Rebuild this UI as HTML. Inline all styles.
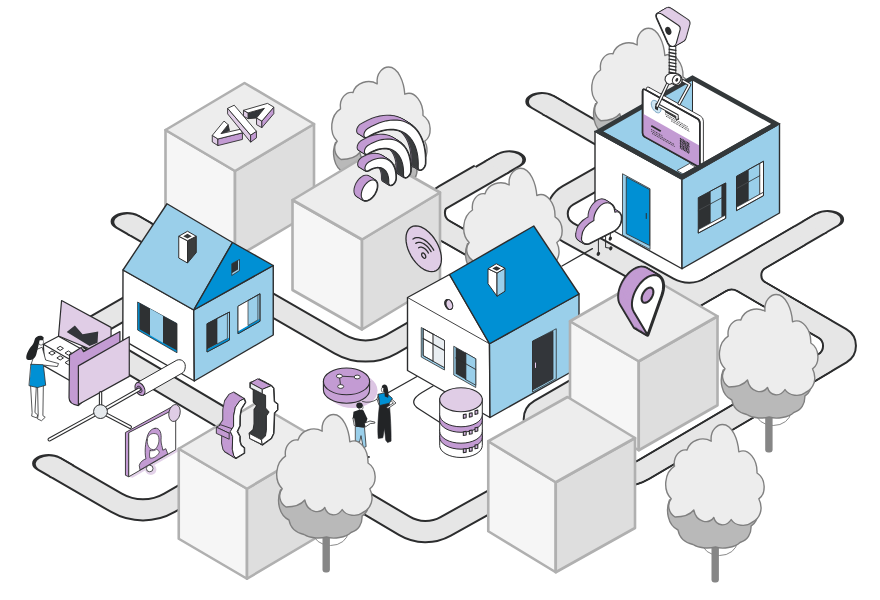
<!DOCTYPE html>
<html><head><meta charset="utf-8"><title>Isometric city</title>
<style>html,body{margin:0;padding:0;background:#fff;font-family:"Liberation Sans",sans-serif}svg{display:block}</style>
</head><body>
<svg width="880" height="600" viewBox="0 0 880 600">
<rect width="880" height="600" fill="#fff"/>
<g fill="none" stroke-linecap="butt" stroke-linejoin="round">
<g stroke="#2c2d2e" stroke-width="23.2">
<path d="M133.1,225.0 L339.7,344.1 A52.0,52.0 0 0 0 391.5,344.1 L470.0,299.0"/>
<path d="M547.8,104.9 L620.0,146.5"/>
<path d="M400.0,222.9 L503.5,163.1"/>
<path d="M400.0,205.0 L413.7,212.7 A45.0,45.0 0 0 1 414.1,212.9 L448.9,233.0 A45.0,45.0 0 0 0 449.1,233.0 L540.0,285.0"/>
<path d="M480.0,174.8 L444.5,195.2 A20.3,20.3 0 0 0 444.5,230.4 L480.0,250.8"/>
<path d="M650.0,148.8 L567.9,195.3 A21.2,21.2 0 0 0 568.1,232.3 L668.3,287.9 A43.0,43.0 0 0 0 710.8,287.4 L821.6,222.9"/>
<path d="M689.7,299.7 L720.5,281.8 A22.0,22.0 0 0 1 742.5,281.7 L841.0,338.3 A8.7,8.7 0 0 1 841.1,353.3 L643.9,469.6 A45.0,45.0 0 0 1 599.7,470.5 L567.1,452.9 A8.0,8.0 0 0 0 557.5,454.5 L540.0,473.0"/>
<path d="M689.7,299.7 L720.5,281.8 A22.0,22.0 0 0 1 742.5,281.7 L823.4,328.2 A20.5,20.5 0 0 1 823.6,363.6 L643.9,469.6 A45.0,45.0 0 0 1 599.7,470.5 L567.1,452.9 A8.0,8.0 0 0 0 557.5,454.5 L540.0,473.0"/>
<path d="M800.0,235.5 L760.2,258.7 A19.2,19.2 0 0 0 760.3,291.9 L800.0,314.7"/>
<path d="M640.0,352.0 L539.6,410.0 A10.7,10.7 0 0 0 539.6,428.5 L579.6,451.6"/>
<path d="M600.0,440.3 L445.7,526.4 A41.5,41.5 0 0 1 404.3,525.8 L92.8,341.0 A8.0,8.0 0 0 1 92.9,327.2 L135.0,303.0"/>
<path d="M54.6,467.0 L116.5,502.8 A53.0,53.0 0 0 0 169.5,502.8 L264.5,448.0"/>
</g>
<path d="M152.5,222.8 L138.6,214.8 A16.40,9.47 0 0 0 115.4,228.2 L129.3,236.2 Z" fill="#2c2d2e"/>
<path d="M567.2,102.7 L553.3,94.7 A16.40,9.47 0 0 0 530.1,108.1 L544.0,116.1 Z" fill="#2c2d2e"/>
<path d="M507.3,174.3 L521.2,166.3 A16.40,9.47 0 0 0 498.0,152.9 L484.1,160.9 Z" fill="#2c2d2e"/>
<path d="M825.4,234.1 L839.3,226.1 A16.40,9.47 0 0 0 816.1,212.7 L802.2,220.7 Z" fill="#2c2d2e"/>
<path d="M74.0,464.8 L60.1,456.8 A16.40,9.47 0 0 0 36.9,470.2 L50.8,478.2 Z" fill="#2c2d2e"/>
<g stroke="#e6e6e6" stroke-width="19.2">
<path d="M133.1,225.0 L339.7,344.1 A52.0,52.0 0 0 0 391.5,344.1 L470.0,299.0"/>
<path d="M547.8,104.9 L620.0,146.5"/>
<path d="M400.0,222.9 L503.5,163.1"/>
<path d="M400.0,205.0 L413.7,212.7 A45.0,45.0 0 0 1 414.1,212.9 L448.9,233.0 A45.0,45.0 0 0 0 449.1,233.0 L540.0,285.0"/>
<path d="M480.0,174.8 L444.5,195.2 A20.3,20.3 0 0 0 444.5,230.4 L480.0,250.8"/>
<path d="M650.0,148.8 L567.9,195.3 A21.2,21.2 0 0 0 568.1,232.3 L668.3,287.9 A43.0,43.0 0 0 0 710.8,287.4 L821.6,222.9"/>
<path d="M689.7,299.7 L720.5,281.8 A22.0,22.0 0 0 1 742.5,281.7 L841.0,338.3 A8.7,8.7 0 0 1 841.1,353.3 L643.9,469.6 A45.0,45.0 0 0 1 599.7,470.5 L567.1,452.9 A8.0,8.0 0 0 0 557.5,454.5 L540.0,473.0"/>
<path d="M689.7,299.7 L720.5,281.8 A22.0,22.0 0 0 1 742.5,281.7 L823.4,328.2 A20.5,20.5 0 0 1 823.6,363.6 L643.9,469.6 A45.0,45.0 0 0 1 599.7,470.5 L567.1,452.9 A8.0,8.0 0 0 0 557.5,454.5 L540.0,473.0"/>
<path d="M800.0,235.5 L760.2,258.7 A19.2,19.2 0 0 0 760.3,291.9 L800.0,314.7"/>
<path d="M640.0,352.0 L539.6,410.0 A10.7,10.7 0 0 0 539.6,428.5 L579.6,451.6"/>
<path d="M600.0,440.3 L445.7,526.4 A41.5,41.5 0 0 1 404.3,525.8 L92.8,341.0 A8.0,8.0 0 0 1 92.9,327.2 L135.0,303.0"/>
<path d="M54.6,467.0 L116.5,502.8 A53.0,53.0 0 0 0 169.5,502.8 L264.5,448.0"/>
</g>
<path d="M150.5,224.0 L136.6,216.0 A13.58,7.84 0 0 0 117.4,227.0 L131.3,235.0 Z" fill="#e6e6e6"/>
<path d="M565.2,103.9 L551.3,95.9 A13.58,7.84 0 0 0 532.1,106.9 L546.0,114.9 Z" fill="#e6e6e6"/>
<path d="M505.3,173.1 L519.2,165.1 A13.58,7.84 0 0 0 500.0,154.1 L486.1,162.1 Z" fill="#e6e6e6"/>
<path d="M823.4,232.9 L837.3,224.9 A13.58,7.84 0 0 0 818.1,213.9 L804.2,221.9 Z" fill="#e6e6e6"/>
<path d="M72.0,466.0 L58.1,458.0 A13.58,7.84 0 0 0 38.9,469.0 L52.8,477.0 Z" fill="#e6e6e6"/>
</g>
<polyline points="562.00,266.00 592.40,248.60" fill="none" stroke="#2c2d2e" stroke-width="1.3" stroke-linejoin="round" stroke-linecap="round" />
<polyline points="388.50,392.50 417.00,376.50" fill="none" stroke="#2c2d2e" stroke-width="1.3" stroke-linejoin="round" stroke-linecap="round" />
<path d="M335.5,142.5 C331.5,152.5 333.5,167.5 344.0,172.5 C345.5,181.2 352.2,185.5 359.0,187.0 C366.0,191.5 376.0,191.0 381.5,189.5 C388.5,192.0 401.0,190.0 406.0,185.0 C413.5,183.0 417.5,176.2 417.0,168.8 C426.0,162.5 426.0,147.5 416.0,142.5 C391.0,137.5 361.0,137.5 335.5,142.5 Z" fill="#b9b9b9" stroke="#808080" stroke-width="1.4" stroke-linejoin="round" stroke-linecap="round" />
<path d="M377.2,83.8 C376.0,72.5 383.5,67.0 388.5,67.0 C398.5,67.0 404.0,82.5 404.8,94.2 C414.8,90.0 423.5,102.5 423.0,115.5 C432.2,121.2 432.2,136.2 424.8,141.2 C429.8,151.2 426.0,161.2 417.8,165.0 C412.2,169.5 401.0,168.8 397.2,162.0 C392.2,170.0 382.2,168.8 379.8,160.0 C374.8,167.0 362.2,165.0 359.8,152.5 C354.8,158.8 346.0,159.5 341.0,159.5 C334.0,155.0 333.0,146.2 337.2,141.2 C328.5,132.5 330.5,115.0 340.5,108.8 C339.0,98.8 346.0,91.2 353.0,92.5 C356.0,82.5 368.5,78.8 377.2,83.8 Z" fill="#ededed" stroke="#808080" stroke-width="1.4" stroke-linejoin="round" stroke-linecap="round" />
<path d="M595.5,103.8 C591.5,113.8 593.5,128.8 604.0,133.8 C605.5,142.5 612.2,146.8 619.0,148.2 C626.0,152.8 636.0,152.2 641.5,150.8 C648.5,153.2 661.0,151.2 666.0,146.2 C673.5,144.2 677.5,137.5 677.0,130.0 C686.0,123.8 686.0,108.8 676.0,103.8 C651.0,98.8 621.0,98.8 595.5,103.8 Z" fill="#b9b9b9" stroke="#808080" stroke-width="1.4" stroke-linejoin="round" stroke-linecap="round" />
<path d="M637.2,45.0 C636.0,33.8 643.5,28.2 648.5,28.2 C658.5,28.2 664.0,43.8 664.8,55.5 C674.8,51.2 683.5,63.8 683.0,76.8 C692.2,82.5 692.2,97.5 684.8,102.5 C689.8,112.5 686.0,122.5 677.8,126.2 C672.2,130.8 661.0,130.0 657.2,123.2 C652.2,131.2 642.2,130.0 639.8,121.2 C634.8,128.2 622.2,126.2 619.8,113.8 C614.8,120.0 606.0,120.8 601.0,120.8 C594.0,116.2 593.0,107.5 597.2,102.5 C588.5,93.8 590.5,76.2 600.5,70.0 C599.0,60.0 606.0,52.5 613.0,53.8 C616.0,43.8 628.5,40.0 637.2,45.0 Z" fill="#ededed" stroke="#808080" stroke-width="1.4" stroke-linejoin="round" stroke-linecap="round" />
<polygon points="165.50,130.00 235.00,171.00 235.00,258.00 165.50,217.00" fill="#f6f6f6" stroke="#b0b0b0" stroke-width="2.6" stroke-linejoin="round" />
<polygon points="235.00,171.00 314.00,124.00 314.00,211.00 235.00,258.00" fill="#dedede" stroke="#b0b0b0" stroke-width="2.6" stroke-linejoin="round" />
<polygon points="165.50,130.00 244.50,83.00 314.00,124.00 235.00,171.00" fill="#ededed" stroke="#b0b0b0" stroke-width="2.6" stroke-linejoin="round" />
<polygon points="228.12,124.65 229.45,130.58 220.96,133.65" fill="#33363a" stroke="#2c2d2e" stroke-width="0.9" stroke-linejoin="round" />
<polygon points="212.27,135.39 217.89,138.97 217.89,145.57 212.27,141.99" fill="#e0cde6" stroke="#2c2d2e" stroke-width="0.9" stroke-linejoin="round" />
<polygon points="217.89,138.97 242.43,132.83 242.43,139.43 217.89,145.57" fill="#c39bd3" stroke="#2c2d2e" stroke-width="0.9" stroke-linejoin="round" />
<polygon points="224.03,121.07 212.27,135.39 217.89,138.97 242.43,132.83 240.39,129.25 220.96,133.65 228.12,124.65" fill="#fff" stroke="#2c2d2e" stroke-width="0.9" stroke-linejoin="round" />
<polygon points="248.06,112.89 264.42,108.29 256.54,118.01 248.06,118.69" fill="#33363a" stroke="#2c2d2e" stroke-width="0.9" stroke-linejoin="round" />
<polygon points="243.46,110.34 248.06,112.89 248.06,118.69 243.46,116.14" fill="#e0cde6" stroke="#2c2d2e" stroke-width="0.9" stroke-linejoin="round" />
<polygon points="256.54,118.01 261.86,121.07 261.86,127.67 256.54,124.61" fill="#e0cde6" stroke="#2c2d2e" stroke-width="0.9" stroke-linejoin="round" />
<polygon points="261.86,121.07 273.82,107.07 273.82,113.67 261.86,127.67" fill="#c39bd3" stroke="#2c2d2e" stroke-width="0.9" stroke-linejoin="round" />
<polygon points="243.46,110.34 267.48,103.38 273.82,107.07 261.86,121.07 256.54,118.01 264.42,108.29 248.06,112.89" fill="#fff" stroke="#2c2d2e" stroke-width="0.9" stroke-linejoin="round" />
<polygon points="227.61,108.29 250.61,135.08 250.61,142.18 227.61,113.89" fill="#e0cde6" stroke="#2c2d2e" stroke-width="0.9" stroke-linejoin="round" />
<polygon points="250.61,135.08 256.44,131.30 256.44,137.90 250.61,142.18" fill="#c39bd3" stroke="#2c2d2e" stroke-width="0.9" stroke-linejoin="round" />
<polygon points="227.61,108.29 234.25,105.22 256.44,131.30 250.61,135.08" fill="#fff" stroke="#2c2d2e" stroke-width="0.9" stroke-linejoin="round" />
<polygon points="292.50,200.00 362.00,239.50 362.00,329.50 292.50,290.00" fill="#f6f6f6" stroke="#b0b0b0" stroke-width="2.6" stroke-linejoin="round" />
<polygon points="362.00,239.50 440.00,192.50 440.00,282.50 362.00,329.50" fill="#dedede" stroke="#b0b0b0" stroke-width="2.6" stroke-linejoin="round" />
<polygon points="292.50,200.00 370.50,153.00 440.00,192.50 362.00,239.50" fill="#ededed" stroke="#b0b0b0" stroke-width="2.6" stroke-linejoin="round" />
<g fill="#2c2d2e" stroke="#2c2d2e" stroke-width="2.2" stroke-linejoin="round">
<polygon points="425.38,163.51 425.45,158.99 425.25,154.64 424.79,150.46 424.06,146.48 423.07,142.72 421.82,139.20 420.32,135.94 418.58,132.94 416.60,130.23 414.40,127.81 411.98,125.71 409.36,123.92 406.54,122.46 403.55,121.33 400.40,120.55 397.10,120.10 393.66,120.00 390.11,120.25 386.46,120.84 382.73,121.78 378.93,123.05 375.09,124.65 371.22,126.58 367.34,128.82 365.98,129.98 364.84,131.58 364.10,133.39 363.87,135.11 364.20,136.51 365.01,137.35 366.21,137.51 367.59,136.97 370.97,135.02 374.35,133.34 377.70,131.94 381.01,130.83 384.26,130.01 387.45,129.50 390.54,129.28 393.54,129.37 396.42,129.75 399.17,130.44 401.78,131.42 404.23,132.70 406.52,134.26 408.62,136.09 410.55,138.20 412.27,140.56 413.79,143.18 415.10,146.02 416.18,149.09 417.05,152.37 417.69,155.84 418.09,159.48 418.27,163.28 418.21,167.22 418.41,168.71 419.12,169.69 420.25,170.01 421.61,169.62 422.99,168.59 424.20,167.06 425.04,165.28" transform="translate(-6.70 -4.20)"/>
<polygon points="425.38,163.51 425.45,158.99 425.25,154.64 424.79,150.46 424.06,146.48 423.07,142.72 421.82,139.20 420.32,135.94 418.58,132.94 416.60,130.23 414.40,127.81 411.98,125.71 409.36,123.92 406.54,122.46 403.55,121.33 400.40,120.55 397.10,120.10 393.66,120.00 390.11,120.25 386.46,120.84 382.73,121.78 378.93,123.05 375.09,124.65 371.22,126.58 367.34,128.82 365.98,129.98 364.84,131.58 364.10,133.39 363.87,135.11 364.20,136.51 365.01,137.35 366.21,137.51 367.59,136.97 370.97,135.02 374.35,133.34 377.70,131.94 381.01,130.83 384.26,130.01 387.45,129.50 390.54,129.28 393.54,129.37 396.42,129.75 399.17,130.44 401.78,131.42 404.23,132.70 406.52,134.26 408.62,136.09 410.55,138.20 412.27,140.56 413.79,143.18 415.10,146.02 416.18,149.09 417.05,152.37 417.69,155.84 418.09,159.48 418.27,163.28 418.21,167.22 418.41,168.71 419.12,169.69 420.25,170.01 421.61,169.62 422.99,168.59 424.20,167.06 425.04,165.28" transform="translate(-5.74 -3.60)"/>
<polygon points="425.38,163.51 425.45,158.99 425.25,154.64 424.79,150.46 424.06,146.48 423.07,142.72 421.82,139.20 420.32,135.94 418.58,132.94 416.60,130.23 414.40,127.81 411.98,125.71 409.36,123.92 406.54,122.46 403.55,121.33 400.40,120.55 397.10,120.10 393.66,120.00 390.11,120.25 386.46,120.84 382.73,121.78 378.93,123.05 375.09,124.65 371.22,126.58 367.34,128.82 365.98,129.98 364.84,131.58 364.10,133.39 363.87,135.11 364.20,136.51 365.01,137.35 366.21,137.51 367.59,136.97 370.97,135.02 374.35,133.34 377.70,131.94 381.01,130.83 384.26,130.01 387.45,129.50 390.54,129.28 393.54,129.37 396.42,129.75 399.17,130.44 401.78,131.42 404.23,132.70 406.52,134.26 408.62,136.09 410.55,138.20 412.27,140.56 413.79,143.18 415.10,146.02 416.18,149.09 417.05,152.37 417.69,155.84 418.09,159.48 418.27,163.28 418.21,167.22 418.41,168.71 419.12,169.69 420.25,170.01 421.61,169.62 422.99,168.59 424.20,167.06 425.04,165.28" transform="translate(-4.79 -3.00)"/>
<polygon points="425.38,163.51 425.45,158.99 425.25,154.64 424.79,150.46 424.06,146.48 423.07,142.72 421.82,139.20 420.32,135.94 418.58,132.94 416.60,130.23 414.40,127.81 411.98,125.71 409.36,123.92 406.54,122.46 403.55,121.33 400.40,120.55 397.10,120.10 393.66,120.00 390.11,120.25 386.46,120.84 382.73,121.78 378.93,123.05 375.09,124.65 371.22,126.58 367.34,128.82 365.98,129.98 364.84,131.58 364.10,133.39 363.87,135.11 364.20,136.51 365.01,137.35 366.21,137.51 367.59,136.97 370.97,135.02 374.35,133.34 377.70,131.94 381.01,130.83 384.26,130.01 387.45,129.50 390.54,129.28 393.54,129.37 396.42,129.75 399.17,130.44 401.78,131.42 404.23,132.70 406.52,134.26 408.62,136.09 410.55,138.20 412.27,140.56 413.79,143.18 415.10,146.02 416.18,149.09 417.05,152.37 417.69,155.84 418.09,159.48 418.27,163.28 418.21,167.22 418.41,168.71 419.12,169.69 420.25,170.01 421.61,169.62 422.99,168.59 424.20,167.06 425.04,165.28" transform="translate(-3.83 -2.40)"/>
<polygon points="425.38,163.51 425.45,158.99 425.25,154.64 424.79,150.46 424.06,146.48 423.07,142.72 421.82,139.20 420.32,135.94 418.58,132.94 416.60,130.23 414.40,127.81 411.98,125.71 409.36,123.92 406.54,122.46 403.55,121.33 400.40,120.55 397.10,120.10 393.66,120.00 390.11,120.25 386.46,120.84 382.73,121.78 378.93,123.05 375.09,124.65 371.22,126.58 367.34,128.82 365.98,129.98 364.84,131.58 364.10,133.39 363.87,135.11 364.20,136.51 365.01,137.35 366.21,137.51 367.59,136.97 370.97,135.02 374.35,133.34 377.70,131.94 381.01,130.83 384.26,130.01 387.45,129.50 390.54,129.28 393.54,129.37 396.42,129.75 399.17,130.44 401.78,131.42 404.23,132.70 406.52,134.26 408.62,136.09 410.55,138.20 412.27,140.56 413.79,143.18 415.10,146.02 416.18,149.09 417.05,152.37 417.69,155.84 418.09,159.48 418.27,163.28 418.21,167.22 418.41,168.71 419.12,169.69 420.25,170.01 421.61,169.62 422.99,168.59 424.20,167.06 425.04,165.28" transform="translate(-2.87 -1.80)"/>
<polygon points="425.38,163.51 425.45,158.99 425.25,154.64 424.79,150.46 424.06,146.48 423.07,142.72 421.82,139.20 420.32,135.94 418.58,132.94 416.60,130.23 414.40,127.81 411.98,125.71 409.36,123.92 406.54,122.46 403.55,121.33 400.40,120.55 397.10,120.10 393.66,120.00 390.11,120.25 386.46,120.84 382.73,121.78 378.93,123.05 375.09,124.65 371.22,126.58 367.34,128.82 365.98,129.98 364.84,131.58 364.10,133.39 363.87,135.11 364.20,136.51 365.01,137.35 366.21,137.51 367.59,136.97 370.97,135.02 374.35,133.34 377.70,131.94 381.01,130.83 384.26,130.01 387.45,129.50 390.54,129.28 393.54,129.37 396.42,129.75 399.17,130.44 401.78,131.42 404.23,132.70 406.52,134.26 408.62,136.09 410.55,138.20 412.27,140.56 413.79,143.18 415.10,146.02 416.18,149.09 417.05,152.37 417.69,155.84 418.09,159.48 418.27,163.28 418.21,167.22 418.41,168.71 419.12,169.69 420.25,170.01 421.61,169.62 422.99,168.59 424.20,167.06 425.04,165.28" transform="translate(-1.91 -1.20)"/>
<polygon points="425.38,163.51 425.45,158.99 425.25,154.64 424.79,150.46 424.06,146.48 423.07,142.72 421.82,139.20 420.32,135.94 418.58,132.94 416.60,130.23 414.40,127.81 411.98,125.71 409.36,123.92 406.54,122.46 403.55,121.33 400.40,120.55 397.10,120.10 393.66,120.00 390.11,120.25 386.46,120.84 382.73,121.78 378.93,123.05 375.09,124.65 371.22,126.58 367.34,128.82 365.98,129.98 364.84,131.58 364.10,133.39 363.87,135.11 364.20,136.51 365.01,137.35 366.21,137.51 367.59,136.97 370.97,135.02 374.35,133.34 377.70,131.94 381.01,130.83 384.26,130.01 387.45,129.50 390.54,129.28 393.54,129.37 396.42,129.75 399.17,130.44 401.78,131.42 404.23,132.70 406.52,134.26 408.62,136.09 410.55,138.20 412.27,140.56 413.79,143.18 415.10,146.02 416.18,149.09 417.05,152.37 417.69,155.84 418.09,159.48 418.27,163.28 418.21,167.22 418.41,168.71 419.12,169.69 420.25,170.01 421.61,169.62 422.99,168.59 424.20,167.06 425.04,165.28" transform="translate(-0.96 -0.60)"/>
<polygon points="425.38,163.51 425.45,158.99 425.25,154.64 424.79,150.46 424.06,146.48 423.07,142.72 421.82,139.20 420.32,135.94 418.58,132.94 416.60,130.23 414.40,127.81 411.98,125.71 409.36,123.92 406.54,122.46 403.55,121.33 400.40,120.55 397.10,120.10 393.66,120.00 390.11,120.25 386.46,120.84 382.73,121.78 378.93,123.05 375.09,124.65 371.22,126.58 367.34,128.82 365.98,129.98 364.84,131.58 364.10,133.39 363.87,135.11 364.20,136.51 365.01,137.35 366.21,137.51 367.59,136.97 370.97,135.02 374.35,133.34 377.70,131.94 381.01,130.83 384.26,130.01 387.45,129.50 390.54,129.28 393.54,129.37 396.42,129.75 399.17,130.44 401.78,131.42 404.23,132.70 406.52,134.26 408.62,136.09 410.55,138.20 412.27,140.56 413.79,143.18 415.10,146.02 416.18,149.09 417.05,152.37 417.69,155.84 418.09,159.48 418.27,163.28 418.21,167.22 418.41,168.71 419.12,169.69 420.25,170.01 421.61,169.62 422.99,168.59 424.20,167.06 425.04,165.28" transform="translate(-0.00 -0.00)"/>
</g><g fill="#c39bd3" stroke="#c39bd3" stroke-width="0.3">
<polygon points="425.38,163.51 425.45,158.99 425.25,154.64 424.79,150.46 424.06,146.48 423.07,142.72 421.82,139.20 420.32,135.94 418.58,132.94 416.60,130.23 414.40,127.81 411.98,125.71 409.36,123.92 406.54,122.46 403.55,121.33 400.40,120.55 397.10,120.10 393.66,120.00 390.11,120.25 386.46,120.84 382.73,121.78 378.93,123.05 375.09,124.65 371.22,126.58 367.34,128.82 365.98,129.98 364.84,131.58 364.10,133.39 363.87,135.11 364.20,136.51 365.01,137.35 366.21,137.51 367.59,136.97 370.97,135.02 374.35,133.34 377.70,131.94 381.01,130.83 384.26,130.01 387.45,129.50 390.54,129.28 393.54,129.37 396.42,129.75 399.17,130.44 401.78,131.42 404.23,132.70 406.52,134.26 408.62,136.09 410.55,138.20 412.27,140.56 413.79,143.18 415.10,146.02 416.18,149.09 417.05,152.37 417.69,155.84 418.09,159.48 418.27,163.28 418.21,167.22 418.41,168.71 419.12,169.69 420.25,170.01 421.61,169.62 422.99,168.59 424.20,167.06 425.04,165.28" transform="translate(-6.70 -4.20)"/>
<polygon points="425.38,163.51 425.45,158.99 425.25,154.64 424.79,150.46 424.06,146.48 423.07,142.72 421.82,139.20 420.32,135.94 418.58,132.94 416.60,130.23 414.40,127.81 411.98,125.71 409.36,123.92 406.54,122.46 403.55,121.33 400.40,120.55 397.10,120.10 393.66,120.00 390.11,120.25 386.46,120.84 382.73,121.78 378.93,123.05 375.09,124.65 371.22,126.58 367.34,128.82 365.98,129.98 364.84,131.58 364.10,133.39 363.87,135.11 364.20,136.51 365.01,137.35 366.21,137.51 367.59,136.97 370.97,135.02 374.35,133.34 377.70,131.94 381.01,130.83 384.26,130.01 387.45,129.50 390.54,129.28 393.54,129.37 396.42,129.75 399.17,130.44 401.78,131.42 404.23,132.70 406.52,134.26 408.62,136.09 410.55,138.20 412.27,140.56 413.79,143.18 415.10,146.02 416.18,149.09 417.05,152.37 417.69,155.84 418.09,159.48 418.27,163.28 418.21,167.22 418.41,168.71 419.12,169.69 420.25,170.01 421.61,169.62 422.99,168.59 424.20,167.06 425.04,165.28" transform="translate(-5.74 -3.60)"/>
<polygon points="425.38,163.51 425.45,158.99 425.25,154.64 424.79,150.46 424.06,146.48 423.07,142.72 421.82,139.20 420.32,135.94 418.58,132.94 416.60,130.23 414.40,127.81 411.98,125.71 409.36,123.92 406.54,122.46 403.55,121.33 400.40,120.55 397.10,120.10 393.66,120.00 390.11,120.25 386.46,120.84 382.73,121.78 378.93,123.05 375.09,124.65 371.22,126.58 367.34,128.82 365.98,129.98 364.84,131.58 364.10,133.39 363.87,135.11 364.20,136.51 365.01,137.35 366.21,137.51 367.59,136.97 370.97,135.02 374.35,133.34 377.70,131.94 381.01,130.83 384.26,130.01 387.45,129.50 390.54,129.28 393.54,129.37 396.42,129.75 399.17,130.44 401.78,131.42 404.23,132.70 406.52,134.26 408.62,136.09 410.55,138.20 412.27,140.56 413.79,143.18 415.10,146.02 416.18,149.09 417.05,152.37 417.69,155.84 418.09,159.48 418.27,163.28 418.21,167.22 418.41,168.71 419.12,169.69 420.25,170.01 421.61,169.62 422.99,168.59 424.20,167.06 425.04,165.28" transform="translate(-4.79 -3.00)"/>
<polygon points="425.38,163.51 425.45,158.99 425.25,154.64 424.79,150.46 424.06,146.48 423.07,142.72 421.82,139.20 420.32,135.94 418.58,132.94 416.60,130.23 414.40,127.81 411.98,125.71 409.36,123.92 406.54,122.46 403.55,121.33 400.40,120.55 397.10,120.10 393.66,120.00 390.11,120.25 386.46,120.84 382.73,121.78 378.93,123.05 375.09,124.65 371.22,126.58 367.34,128.82 365.98,129.98 364.84,131.58 364.10,133.39 363.87,135.11 364.20,136.51 365.01,137.35 366.21,137.51 367.59,136.97 370.97,135.02 374.35,133.34 377.70,131.94 381.01,130.83 384.26,130.01 387.45,129.50 390.54,129.28 393.54,129.37 396.42,129.75 399.17,130.44 401.78,131.42 404.23,132.70 406.52,134.26 408.62,136.09 410.55,138.20 412.27,140.56 413.79,143.18 415.10,146.02 416.18,149.09 417.05,152.37 417.69,155.84 418.09,159.48 418.27,163.28 418.21,167.22 418.41,168.71 419.12,169.69 420.25,170.01 421.61,169.62 422.99,168.59 424.20,167.06 425.04,165.28" transform="translate(-3.83 -2.40)"/>
<polygon points="425.38,163.51 425.45,158.99 425.25,154.64 424.79,150.46 424.06,146.48 423.07,142.72 421.82,139.20 420.32,135.94 418.58,132.94 416.60,130.23 414.40,127.81 411.98,125.71 409.36,123.92 406.54,122.46 403.55,121.33 400.40,120.55 397.10,120.10 393.66,120.00 390.11,120.25 386.46,120.84 382.73,121.78 378.93,123.05 375.09,124.65 371.22,126.58 367.34,128.82 365.98,129.98 364.84,131.58 364.10,133.39 363.87,135.11 364.20,136.51 365.01,137.35 366.21,137.51 367.59,136.97 370.97,135.02 374.35,133.34 377.70,131.94 381.01,130.83 384.26,130.01 387.45,129.50 390.54,129.28 393.54,129.37 396.42,129.75 399.17,130.44 401.78,131.42 404.23,132.70 406.52,134.26 408.62,136.09 410.55,138.20 412.27,140.56 413.79,143.18 415.10,146.02 416.18,149.09 417.05,152.37 417.69,155.84 418.09,159.48 418.27,163.28 418.21,167.22 418.41,168.71 419.12,169.69 420.25,170.01 421.61,169.62 422.99,168.59 424.20,167.06 425.04,165.28" transform="translate(-2.87 -1.80)"/>
<polygon points="425.38,163.51 425.45,158.99 425.25,154.64 424.79,150.46 424.06,146.48 423.07,142.72 421.82,139.20 420.32,135.94 418.58,132.94 416.60,130.23 414.40,127.81 411.98,125.71 409.36,123.92 406.54,122.46 403.55,121.33 400.40,120.55 397.10,120.10 393.66,120.00 390.11,120.25 386.46,120.84 382.73,121.78 378.93,123.05 375.09,124.65 371.22,126.58 367.34,128.82 365.98,129.98 364.84,131.58 364.10,133.39 363.87,135.11 364.20,136.51 365.01,137.35 366.21,137.51 367.59,136.97 370.97,135.02 374.35,133.34 377.70,131.94 381.01,130.83 384.26,130.01 387.45,129.50 390.54,129.28 393.54,129.37 396.42,129.75 399.17,130.44 401.78,131.42 404.23,132.70 406.52,134.26 408.62,136.09 410.55,138.20 412.27,140.56 413.79,143.18 415.10,146.02 416.18,149.09 417.05,152.37 417.69,155.84 418.09,159.48 418.27,163.28 418.21,167.22 418.41,168.71 419.12,169.69 420.25,170.01 421.61,169.62 422.99,168.59 424.20,167.06 425.04,165.28" transform="translate(-1.91 -1.20)"/>
<polygon points="425.38,163.51 425.45,158.99 425.25,154.64 424.79,150.46 424.06,146.48 423.07,142.72 421.82,139.20 420.32,135.94 418.58,132.94 416.60,130.23 414.40,127.81 411.98,125.71 409.36,123.92 406.54,122.46 403.55,121.33 400.40,120.55 397.10,120.10 393.66,120.00 390.11,120.25 386.46,120.84 382.73,121.78 378.93,123.05 375.09,124.65 371.22,126.58 367.34,128.82 365.98,129.98 364.84,131.58 364.10,133.39 363.87,135.11 364.20,136.51 365.01,137.35 366.21,137.51 367.59,136.97 370.97,135.02 374.35,133.34 377.70,131.94 381.01,130.83 384.26,130.01 387.45,129.50 390.54,129.28 393.54,129.37 396.42,129.75 399.17,130.44 401.78,131.42 404.23,132.70 406.52,134.26 408.62,136.09 410.55,138.20 412.27,140.56 413.79,143.18 415.10,146.02 416.18,149.09 417.05,152.37 417.69,155.84 418.09,159.48 418.27,163.28 418.21,167.22 418.41,168.71 419.12,169.69 420.25,170.01 421.61,169.62 422.99,168.59 424.20,167.06 425.04,165.28" transform="translate(-0.96 -0.60)"/>
</g>
<path d="M425.38,163.51 L425.04,165.28 L418.34,161.08 L418.68,159.31Z M425.04,165.28 L424.20,167.06 L417.50,162.86 L418.34,161.08Z M424.20,167.06 L422.99,168.59 L416.29,164.39 L417.50,162.86Z M422.99,168.59 L421.61,169.62 L414.91,165.42 L416.29,164.39Z M421.61,169.62 L420.25,170.01 L413.55,165.81 L414.91,165.42Z M420.25,170.01 L419.12,169.69 L412.42,165.49 L413.55,165.81Z M412.42,165.49 L411.71,164.51 L418.41,168.71 L419.12,169.69Z M411.71,164.51 L411.51,163.02 L418.21,167.22 L418.41,168.71Z M418.21,167.22 L418.21,167.22 L411.51,163.02 L411.51,163.02Z M411.51,163.02 L411.57,159.34 L418.27,163.54 L418.21,167.22Z M411.57,159.34 L411.43,155.77 L418.13,159.97 L418.27,163.54Z M411.43,155.77 L411.08,152.34 L417.78,156.54 L418.13,159.97Z M411.08,152.34 L410.54,149.06 L417.24,153.26 L417.78,156.54Z M410.54,149.06 L409.79,145.94 L416.49,150.14 L417.24,153.26Z M409.79,145.94 L408.85,143.00 L415.55,147.20 L416.49,150.14Z M408.85,143.00 L407.71,140.25 L414.41,144.45 L415.55,147.20Z M407.71,140.25 L406.39,137.70 L413.09,141.90 L414.41,144.45Z M406.39,137.70 L404.88,135.36 L411.58,139.56 L413.09,141.90Z M404.88,135.36 L403.20,133.24 L409.90,137.44 L411.58,139.56Z M403.20,133.24 L401.35,131.35 L408.05,135.55 L409.90,137.44Z M401.35,131.35 L399.33,129.69 L406.03,133.89 L408.05,135.55Z " fill="#3a3c3e" stroke="#3a3c3e" stroke-width="0.3" stroke-linejoin="round" stroke-linecap="round" />
<polygon points="425.38,163.51 425.45,158.99 425.25,154.64 424.79,150.46 424.06,146.48 423.07,142.72 421.82,139.20 420.32,135.94 418.58,132.94 416.60,130.23 414.40,127.81 411.98,125.71 409.36,123.92 406.54,122.46 403.55,121.33 400.40,120.55 397.10,120.10 393.66,120.00 390.11,120.25 386.46,120.84 382.73,121.78 378.93,123.05 375.09,124.65 371.22,126.58 367.34,128.82 365.98,129.98 364.84,131.58 364.10,133.39 363.87,135.11 364.20,136.51 365.01,137.35 366.21,137.51 367.59,136.97 370.97,135.02 374.35,133.34 377.70,131.94 381.01,130.83 384.26,130.01 387.45,129.50 390.54,129.28 393.54,129.37 396.42,129.75 399.17,130.44 401.78,131.42 404.23,132.70 406.52,134.26 408.62,136.09 410.55,138.20 412.27,140.56 413.79,143.18 415.10,146.02 416.18,149.09 417.05,152.37 417.69,155.84 418.09,159.48 418.27,163.28 418.21,167.22 418.41,168.71 419.12,169.69 420.25,170.01 421.61,169.62 422.99,168.59 424.20,167.06 425.04,165.28" fill="#fff" stroke="#2c2d2e" stroke-width="1.1" stroke-linejoin="round" />
<g fill="#2c2d2e" stroke="#2c2d2e" stroke-width="2.2" stroke-linejoin="round">
<polygon points="410.68,171.11 410.73,167.78 410.59,164.56 410.24,161.48 409.70,158.54 408.97,155.77 408.05,153.17 406.94,150.76 405.66,148.55 404.20,146.55 402.57,144.77 400.79,143.22 398.86,141.90 396.78,140.82 394.57,139.99 392.25,139.41 389.81,139.08 387.28,139.01 384.66,139.19 381.96,139.63 379.21,140.32 376.41,141.26 373.57,142.44 370.72,143.86 367.85,145.51 366.49,146.67 365.35,148.28 364.61,150.08 364.39,151.81 364.71,153.20 365.53,154.04 366.72,154.20 368.10,153.66 370.47,152.30 372.83,151.12 375.17,150.14 377.49,149.37 379.77,148.80 381.99,148.44 384.16,148.29 386.25,148.35 388.27,148.62 390.19,149.10 392.01,149.78 393.73,150.67 395.33,151.76 396.80,153.05 398.15,154.52 399.35,156.18 400.41,158.00 401.33,160.00 402.09,162.14 402.69,164.43 403.14,166.86 403.42,169.41 403.55,172.07 403.50,174.82 403.70,176.31 404.42,177.29 405.55,177.61 406.90,177.22 408.29,176.19 409.50,174.66 410.34,172.88" transform="translate(-6.70 -4.20)"/>
<polygon points="410.68,171.11 410.73,167.78 410.59,164.56 410.24,161.48 409.70,158.54 408.97,155.77 408.05,153.17 406.94,150.76 405.66,148.55 404.20,146.55 402.57,144.77 400.79,143.22 398.86,141.90 396.78,140.82 394.57,139.99 392.25,139.41 389.81,139.08 387.28,139.01 384.66,139.19 381.96,139.63 379.21,140.32 376.41,141.26 373.57,142.44 370.72,143.86 367.85,145.51 366.49,146.67 365.35,148.28 364.61,150.08 364.39,151.81 364.71,153.20 365.53,154.04 366.72,154.20 368.10,153.66 370.47,152.30 372.83,151.12 375.17,150.14 377.49,149.37 379.77,148.80 381.99,148.44 384.16,148.29 386.25,148.35 388.27,148.62 390.19,149.10 392.01,149.78 393.73,150.67 395.33,151.76 396.80,153.05 398.15,154.52 399.35,156.18 400.41,158.00 401.33,160.00 402.09,162.14 402.69,164.43 403.14,166.86 403.42,169.41 403.55,172.07 403.50,174.82 403.70,176.31 404.42,177.29 405.55,177.61 406.90,177.22 408.29,176.19 409.50,174.66 410.34,172.88" transform="translate(-5.74 -3.60)"/>
<polygon points="410.68,171.11 410.73,167.78 410.59,164.56 410.24,161.48 409.70,158.54 408.97,155.77 408.05,153.17 406.94,150.76 405.66,148.55 404.20,146.55 402.57,144.77 400.79,143.22 398.86,141.90 396.78,140.82 394.57,139.99 392.25,139.41 389.81,139.08 387.28,139.01 384.66,139.19 381.96,139.63 379.21,140.32 376.41,141.26 373.57,142.44 370.72,143.86 367.85,145.51 366.49,146.67 365.35,148.28 364.61,150.08 364.39,151.81 364.71,153.20 365.53,154.04 366.72,154.20 368.10,153.66 370.47,152.30 372.83,151.12 375.17,150.14 377.49,149.37 379.77,148.80 381.99,148.44 384.16,148.29 386.25,148.35 388.27,148.62 390.19,149.10 392.01,149.78 393.73,150.67 395.33,151.76 396.80,153.05 398.15,154.52 399.35,156.18 400.41,158.00 401.33,160.00 402.09,162.14 402.69,164.43 403.14,166.86 403.42,169.41 403.55,172.07 403.50,174.82 403.70,176.31 404.42,177.29 405.55,177.61 406.90,177.22 408.29,176.19 409.50,174.66 410.34,172.88" transform="translate(-4.79 -3.00)"/>
<polygon points="410.68,171.11 410.73,167.78 410.59,164.56 410.24,161.48 409.70,158.54 408.97,155.77 408.05,153.17 406.94,150.76 405.66,148.55 404.20,146.55 402.57,144.77 400.79,143.22 398.86,141.90 396.78,140.82 394.57,139.99 392.25,139.41 389.81,139.08 387.28,139.01 384.66,139.19 381.96,139.63 379.21,140.32 376.41,141.26 373.57,142.44 370.72,143.86 367.85,145.51 366.49,146.67 365.35,148.28 364.61,150.08 364.39,151.81 364.71,153.20 365.53,154.04 366.72,154.20 368.10,153.66 370.47,152.30 372.83,151.12 375.17,150.14 377.49,149.37 379.77,148.80 381.99,148.44 384.16,148.29 386.25,148.35 388.27,148.62 390.19,149.10 392.01,149.78 393.73,150.67 395.33,151.76 396.80,153.05 398.15,154.52 399.35,156.18 400.41,158.00 401.33,160.00 402.09,162.14 402.69,164.43 403.14,166.86 403.42,169.41 403.55,172.07 403.50,174.82 403.70,176.31 404.42,177.29 405.55,177.61 406.90,177.22 408.29,176.19 409.50,174.66 410.34,172.88" transform="translate(-3.83 -2.40)"/>
<polygon points="410.68,171.11 410.73,167.78 410.59,164.56 410.24,161.48 409.70,158.54 408.97,155.77 408.05,153.17 406.94,150.76 405.66,148.55 404.20,146.55 402.57,144.77 400.79,143.22 398.86,141.90 396.78,140.82 394.57,139.99 392.25,139.41 389.81,139.08 387.28,139.01 384.66,139.19 381.96,139.63 379.21,140.32 376.41,141.26 373.57,142.44 370.72,143.86 367.85,145.51 366.49,146.67 365.35,148.28 364.61,150.08 364.39,151.81 364.71,153.20 365.53,154.04 366.72,154.20 368.10,153.66 370.47,152.30 372.83,151.12 375.17,150.14 377.49,149.37 379.77,148.80 381.99,148.44 384.16,148.29 386.25,148.35 388.27,148.62 390.19,149.10 392.01,149.78 393.73,150.67 395.33,151.76 396.80,153.05 398.15,154.52 399.35,156.18 400.41,158.00 401.33,160.00 402.09,162.14 402.69,164.43 403.14,166.86 403.42,169.41 403.55,172.07 403.50,174.82 403.70,176.31 404.42,177.29 405.55,177.61 406.90,177.22 408.29,176.19 409.50,174.66 410.34,172.88" transform="translate(-2.87 -1.80)"/>
<polygon points="410.68,171.11 410.73,167.78 410.59,164.56 410.24,161.48 409.70,158.54 408.97,155.77 408.05,153.17 406.94,150.76 405.66,148.55 404.20,146.55 402.57,144.77 400.79,143.22 398.86,141.90 396.78,140.82 394.57,139.99 392.25,139.41 389.81,139.08 387.28,139.01 384.66,139.19 381.96,139.63 379.21,140.32 376.41,141.26 373.57,142.44 370.72,143.86 367.85,145.51 366.49,146.67 365.35,148.28 364.61,150.08 364.39,151.81 364.71,153.20 365.53,154.04 366.72,154.20 368.10,153.66 370.47,152.30 372.83,151.12 375.17,150.14 377.49,149.37 379.77,148.80 381.99,148.44 384.16,148.29 386.25,148.35 388.27,148.62 390.19,149.10 392.01,149.78 393.73,150.67 395.33,151.76 396.80,153.05 398.15,154.52 399.35,156.18 400.41,158.00 401.33,160.00 402.09,162.14 402.69,164.43 403.14,166.86 403.42,169.41 403.55,172.07 403.50,174.82 403.70,176.31 404.42,177.29 405.55,177.61 406.90,177.22 408.29,176.19 409.50,174.66 410.34,172.88" transform="translate(-1.91 -1.20)"/>
<polygon points="410.68,171.11 410.73,167.78 410.59,164.56 410.24,161.48 409.70,158.54 408.97,155.77 408.05,153.17 406.94,150.76 405.66,148.55 404.20,146.55 402.57,144.77 400.79,143.22 398.86,141.90 396.78,140.82 394.57,139.99 392.25,139.41 389.81,139.08 387.28,139.01 384.66,139.19 381.96,139.63 379.21,140.32 376.41,141.26 373.57,142.44 370.72,143.86 367.85,145.51 366.49,146.67 365.35,148.28 364.61,150.08 364.39,151.81 364.71,153.20 365.53,154.04 366.72,154.20 368.10,153.66 370.47,152.30 372.83,151.12 375.17,150.14 377.49,149.37 379.77,148.80 381.99,148.44 384.16,148.29 386.25,148.35 388.27,148.62 390.19,149.10 392.01,149.78 393.73,150.67 395.33,151.76 396.80,153.05 398.15,154.52 399.35,156.18 400.41,158.00 401.33,160.00 402.09,162.14 402.69,164.43 403.14,166.86 403.42,169.41 403.55,172.07 403.50,174.82 403.70,176.31 404.42,177.29 405.55,177.61 406.90,177.22 408.29,176.19 409.50,174.66 410.34,172.88" transform="translate(-0.96 -0.60)"/>
<polygon points="410.68,171.11 410.73,167.78 410.59,164.56 410.24,161.48 409.70,158.54 408.97,155.77 408.05,153.17 406.94,150.76 405.66,148.55 404.20,146.55 402.57,144.77 400.79,143.22 398.86,141.90 396.78,140.82 394.57,139.99 392.25,139.41 389.81,139.08 387.28,139.01 384.66,139.19 381.96,139.63 379.21,140.32 376.41,141.26 373.57,142.44 370.72,143.86 367.85,145.51 366.49,146.67 365.35,148.28 364.61,150.08 364.39,151.81 364.71,153.20 365.53,154.04 366.72,154.20 368.10,153.66 370.47,152.30 372.83,151.12 375.17,150.14 377.49,149.37 379.77,148.80 381.99,148.44 384.16,148.29 386.25,148.35 388.27,148.62 390.19,149.10 392.01,149.78 393.73,150.67 395.33,151.76 396.80,153.05 398.15,154.52 399.35,156.18 400.41,158.00 401.33,160.00 402.09,162.14 402.69,164.43 403.14,166.86 403.42,169.41 403.55,172.07 403.50,174.82 403.70,176.31 404.42,177.29 405.55,177.61 406.90,177.22 408.29,176.19 409.50,174.66 410.34,172.88" transform="translate(-0.00 -0.00)"/>
</g><g fill="#c39bd3" stroke="#c39bd3" stroke-width="0.3">
<polygon points="410.68,171.11 410.73,167.78 410.59,164.56 410.24,161.48 409.70,158.54 408.97,155.77 408.05,153.17 406.94,150.76 405.66,148.55 404.20,146.55 402.57,144.77 400.79,143.22 398.86,141.90 396.78,140.82 394.57,139.99 392.25,139.41 389.81,139.08 387.28,139.01 384.66,139.19 381.96,139.63 379.21,140.32 376.41,141.26 373.57,142.44 370.72,143.86 367.85,145.51 366.49,146.67 365.35,148.28 364.61,150.08 364.39,151.81 364.71,153.20 365.53,154.04 366.72,154.20 368.10,153.66 370.47,152.30 372.83,151.12 375.17,150.14 377.49,149.37 379.77,148.80 381.99,148.44 384.16,148.29 386.25,148.35 388.27,148.62 390.19,149.10 392.01,149.78 393.73,150.67 395.33,151.76 396.80,153.05 398.15,154.52 399.35,156.18 400.41,158.00 401.33,160.00 402.09,162.14 402.69,164.43 403.14,166.86 403.42,169.41 403.55,172.07 403.50,174.82 403.70,176.31 404.42,177.29 405.55,177.61 406.90,177.22 408.29,176.19 409.50,174.66 410.34,172.88" transform="translate(-6.70 -4.20)"/>
<polygon points="410.68,171.11 410.73,167.78 410.59,164.56 410.24,161.48 409.70,158.54 408.97,155.77 408.05,153.17 406.94,150.76 405.66,148.55 404.20,146.55 402.57,144.77 400.79,143.22 398.86,141.90 396.78,140.82 394.57,139.99 392.25,139.41 389.81,139.08 387.28,139.01 384.66,139.19 381.96,139.63 379.21,140.32 376.41,141.26 373.57,142.44 370.72,143.86 367.85,145.51 366.49,146.67 365.35,148.28 364.61,150.08 364.39,151.81 364.71,153.20 365.53,154.04 366.72,154.20 368.10,153.66 370.47,152.30 372.83,151.12 375.17,150.14 377.49,149.37 379.77,148.80 381.99,148.44 384.16,148.29 386.25,148.35 388.27,148.62 390.19,149.10 392.01,149.78 393.73,150.67 395.33,151.76 396.80,153.05 398.15,154.52 399.35,156.18 400.41,158.00 401.33,160.00 402.09,162.14 402.69,164.43 403.14,166.86 403.42,169.41 403.55,172.07 403.50,174.82 403.70,176.31 404.42,177.29 405.55,177.61 406.90,177.22 408.29,176.19 409.50,174.66 410.34,172.88" transform="translate(-5.74 -3.60)"/>
<polygon points="410.68,171.11 410.73,167.78 410.59,164.56 410.24,161.48 409.70,158.54 408.97,155.77 408.05,153.17 406.94,150.76 405.66,148.55 404.20,146.55 402.57,144.77 400.79,143.22 398.86,141.90 396.78,140.82 394.57,139.99 392.25,139.41 389.81,139.08 387.28,139.01 384.66,139.19 381.96,139.63 379.21,140.32 376.41,141.26 373.57,142.44 370.72,143.86 367.85,145.51 366.49,146.67 365.35,148.28 364.61,150.08 364.39,151.81 364.71,153.20 365.53,154.04 366.72,154.20 368.10,153.66 370.47,152.30 372.83,151.12 375.17,150.14 377.49,149.37 379.77,148.80 381.99,148.44 384.16,148.29 386.25,148.35 388.27,148.62 390.19,149.10 392.01,149.78 393.73,150.67 395.33,151.76 396.80,153.05 398.15,154.52 399.35,156.18 400.41,158.00 401.33,160.00 402.09,162.14 402.69,164.43 403.14,166.86 403.42,169.41 403.55,172.07 403.50,174.82 403.70,176.31 404.42,177.29 405.55,177.61 406.90,177.22 408.29,176.19 409.50,174.66 410.34,172.88" transform="translate(-4.79 -3.00)"/>
<polygon points="410.68,171.11 410.73,167.78 410.59,164.56 410.24,161.48 409.70,158.54 408.97,155.77 408.05,153.17 406.94,150.76 405.66,148.55 404.20,146.55 402.57,144.77 400.79,143.22 398.86,141.90 396.78,140.82 394.57,139.99 392.25,139.41 389.81,139.08 387.28,139.01 384.66,139.19 381.96,139.63 379.21,140.32 376.41,141.26 373.57,142.44 370.72,143.86 367.85,145.51 366.49,146.67 365.35,148.28 364.61,150.08 364.39,151.81 364.71,153.20 365.53,154.04 366.72,154.20 368.10,153.66 370.47,152.30 372.83,151.12 375.17,150.14 377.49,149.37 379.77,148.80 381.99,148.44 384.16,148.29 386.25,148.35 388.27,148.62 390.19,149.10 392.01,149.78 393.73,150.67 395.33,151.76 396.80,153.05 398.15,154.52 399.35,156.18 400.41,158.00 401.33,160.00 402.09,162.14 402.69,164.43 403.14,166.86 403.42,169.41 403.55,172.07 403.50,174.82 403.70,176.31 404.42,177.29 405.55,177.61 406.90,177.22 408.29,176.19 409.50,174.66 410.34,172.88" transform="translate(-3.83 -2.40)"/>
<polygon points="410.68,171.11 410.73,167.78 410.59,164.56 410.24,161.48 409.70,158.54 408.97,155.77 408.05,153.17 406.94,150.76 405.66,148.55 404.20,146.55 402.57,144.77 400.79,143.22 398.86,141.90 396.78,140.82 394.57,139.99 392.25,139.41 389.81,139.08 387.28,139.01 384.66,139.19 381.96,139.63 379.21,140.32 376.41,141.26 373.57,142.44 370.72,143.86 367.85,145.51 366.49,146.67 365.35,148.28 364.61,150.08 364.39,151.81 364.71,153.20 365.53,154.04 366.72,154.20 368.10,153.66 370.47,152.30 372.83,151.12 375.17,150.14 377.49,149.37 379.77,148.80 381.99,148.44 384.16,148.29 386.25,148.35 388.27,148.62 390.19,149.10 392.01,149.78 393.73,150.67 395.33,151.76 396.80,153.05 398.15,154.52 399.35,156.18 400.41,158.00 401.33,160.00 402.09,162.14 402.69,164.43 403.14,166.86 403.42,169.41 403.55,172.07 403.50,174.82 403.70,176.31 404.42,177.29 405.55,177.61 406.90,177.22 408.29,176.19 409.50,174.66 410.34,172.88" transform="translate(-2.87 -1.80)"/>
<polygon points="410.68,171.11 410.73,167.78 410.59,164.56 410.24,161.48 409.70,158.54 408.97,155.77 408.05,153.17 406.94,150.76 405.66,148.55 404.20,146.55 402.57,144.77 400.79,143.22 398.86,141.90 396.78,140.82 394.57,139.99 392.25,139.41 389.81,139.08 387.28,139.01 384.66,139.19 381.96,139.63 379.21,140.32 376.41,141.26 373.57,142.44 370.72,143.86 367.85,145.51 366.49,146.67 365.35,148.28 364.61,150.08 364.39,151.81 364.71,153.20 365.53,154.04 366.72,154.20 368.10,153.66 370.47,152.30 372.83,151.12 375.17,150.14 377.49,149.37 379.77,148.80 381.99,148.44 384.16,148.29 386.25,148.35 388.27,148.62 390.19,149.10 392.01,149.78 393.73,150.67 395.33,151.76 396.80,153.05 398.15,154.52 399.35,156.18 400.41,158.00 401.33,160.00 402.09,162.14 402.69,164.43 403.14,166.86 403.42,169.41 403.55,172.07 403.50,174.82 403.70,176.31 404.42,177.29 405.55,177.61 406.90,177.22 408.29,176.19 409.50,174.66 410.34,172.88" transform="translate(-1.91 -1.20)"/>
<polygon points="410.68,171.11 410.73,167.78 410.59,164.56 410.24,161.48 409.70,158.54 408.97,155.77 408.05,153.17 406.94,150.76 405.66,148.55 404.20,146.55 402.57,144.77 400.79,143.22 398.86,141.90 396.78,140.82 394.57,139.99 392.25,139.41 389.81,139.08 387.28,139.01 384.66,139.19 381.96,139.63 379.21,140.32 376.41,141.26 373.57,142.44 370.72,143.86 367.85,145.51 366.49,146.67 365.35,148.28 364.61,150.08 364.39,151.81 364.71,153.20 365.53,154.04 366.72,154.20 368.10,153.66 370.47,152.30 372.83,151.12 375.17,150.14 377.49,149.37 379.77,148.80 381.99,148.44 384.16,148.29 386.25,148.35 388.27,148.62 390.19,149.10 392.01,149.78 393.73,150.67 395.33,151.76 396.80,153.05 398.15,154.52 399.35,156.18 400.41,158.00 401.33,160.00 402.09,162.14 402.69,164.43 403.14,166.86 403.42,169.41 403.55,172.07 403.50,174.82 403.70,176.31 404.42,177.29 405.55,177.61 406.90,177.22 408.29,176.19 409.50,174.66 410.34,172.88" transform="translate(-0.96 -0.60)"/>
</g>
<path d="M410.68,171.11 L410.34,172.88 L403.64,168.68 L403.98,166.91Z M410.34,172.88 L409.50,174.66 L402.80,170.46 L403.64,168.68Z M409.50,174.66 L408.29,176.19 L401.59,171.99 L402.80,170.46Z M408.29,176.19 L406.90,177.22 L400.20,173.02 L401.59,171.99Z M406.90,177.22 L405.55,177.61 L398.85,173.41 L400.20,173.02Z M405.55,177.61 L404.42,177.29 L397.72,173.09 L398.85,173.41Z M397.72,173.09 L397.00,172.11 L403.70,176.31 L404.42,177.29Z M397.00,172.11 L396.80,170.62 L403.50,174.82 L403.70,176.31Z M403.50,174.82 L403.50,174.82 L396.80,170.62 L396.80,170.62Z M396.80,170.62 L396.85,168.04 L403.55,172.24 L403.50,174.82Z M396.85,168.04 L396.75,165.55 L403.45,169.75 L403.55,172.24Z M396.75,165.55 L396.51,163.15 L403.21,167.35 L403.45,169.75Z M396.51,163.15 L396.13,160.86 L402.83,165.06 L403.21,167.35Z M396.13,160.86 L395.60,158.67 L402.30,162.87 L402.83,165.06Z M395.60,158.67 L394.95,156.62 L401.65,160.82 L402.30,162.87Z M394.95,156.62 L394.15,154.69 L400.85,158.89 L401.65,160.82Z M394.15,154.69 L393.23,152.91 L399.93,157.11 L400.85,158.89Z M393.23,152.91 L392.17,151.27 L398.87,155.47 L399.93,157.11Z M392.17,151.27 L390.99,149.79 L397.69,153.99 L398.87,155.47Z M390.99,149.79 L389.70,148.47 L396.40,152.67 L397.69,153.99Z M389.70,148.47 L388.29,147.31 L394.99,151.51 L396.40,152.67Z " fill="#3a3c3e" stroke="#3a3c3e" stroke-width="0.3" stroke-linejoin="round" stroke-linecap="round" />
<polygon points="410.68,171.11 410.73,167.78 410.59,164.56 410.24,161.48 409.70,158.54 408.97,155.77 408.05,153.17 406.94,150.76 405.66,148.55 404.20,146.55 402.57,144.77 400.79,143.22 398.86,141.90 396.78,140.82 394.57,139.99 392.25,139.41 389.81,139.08 387.28,139.01 384.66,139.19 381.96,139.63 379.21,140.32 376.41,141.26 373.57,142.44 370.72,143.86 367.85,145.51 366.49,146.67 365.35,148.28 364.61,150.08 364.39,151.81 364.71,153.20 365.53,154.04 366.72,154.20 368.10,153.66 370.47,152.30 372.83,151.12 375.17,150.14 377.49,149.37 379.77,148.80 381.99,148.44 384.16,148.29 386.25,148.35 388.27,148.62 390.19,149.10 392.01,149.78 393.73,150.67 395.33,151.76 396.80,153.05 398.15,154.52 399.35,156.18 400.41,158.00 401.33,160.00 402.09,162.14 402.69,164.43 403.14,166.86 403.42,169.41 403.55,172.07 403.50,174.82 403.70,176.31 404.42,177.29 405.55,177.61 406.90,177.22 408.29,176.19 409.50,174.66 410.34,172.88" fill="#fff" stroke="#2c2d2e" stroke-width="1.1" stroke-linejoin="round" />
<g fill="#2c2d2e" stroke="#2c2d2e" stroke-width="2.2" stroke-linejoin="round">
<polygon points="395.89,178.76 395.93,176.61 395.83,174.55 395.61,172.56 395.26,170.68 394.79,168.90 394.20,167.23 393.49,165.68 392.67,164.26 391.73,162.97 390.68,161.83 389.54,160.83 388.29,159.98 386.96,159.29 385.54,158.75 384.05,158.38 382.48,158.17 380.85,158.12 379.17,158.24 377.44,158.52 375.67,158.97 373.87,159.57 372.05,160.33 370.21,161.24 368.37,162.31 367.01,163.46 365.87,165.07 365.13,166.87 364.90,168.60 365.23,169.99 366.05,170.83 367.24,170.99 368.62,170.46 369.96,169.68 371.30,169.01 372.63,168.46 373.95,168.02 375.24,167.69 376.50,167.49 377.73,167.40 378.92,167.44 380.07,167.59 381.16,167.86 382.19,168.25 383.17,168.76 384.07,169.38 384.91,170.11 385.67,170.94 386.36,171.88 386.96,172.92 387.48,174.05 387.91,175.27 388.26,176.57 388.51,177.95 388.67,179.39 388.74,180.90 388.72,182.47 388.92,183.95 389.63,184.93 390.76,185.25 392.12,184.86 393.50,183.83 394.71,182.31 395.55,180.52" transform="translate(-6.70 -4.20)"/>
<polygon points="395.89,178.76 395.93,176.61 395.83,174.55 395.61,172.56 395.26,170.68 394.79,168.90 394.20,167.23 393.49,165.68 392.67,164.26 391.73,162.97 390.68,161.83 389.54,160.83 388.29,159.98 386.96,159.29 385.54,158.75 384.05,158.38 382.48,158.17 380.85,158.12 379.17,158.24 377.44,158.52 375.67,158.97 373.87,159.57 372.05,160.33 370.21,161.24 368.37,162.31 367.01,163.46 365.87,165.07 365.13,166.87 364.90,168.60 365.23,169.99 366.05,170.83 367.24,170.99 368.62,170.46 369.96,169.68 371.30,169.01 372.63,168.46 373.95,168.02 375.24,167.69 376.50,167.49 377.73,167.40 378.92,167.44 380.07,167.59 381.16,167.86 382.19,168.25 383.17,168.76 384.07,169.38 384.91,170.11 385.67,170.94 386.36,171.88 386.96,172.92 387.48,174.05 387.91,175.27 388.26,176.57 388.51,177.95 388.67,179.39 388.74,180.90 388.72,182.47 388.92,183.95 389.63,184.93 390.76,185.25 392.12,184.86 393.50,183.83 394.71,182.31 395.55,180.52" transform="translate(-5.74 -3.60)"/>
<polygon points="395.89,178.76 395.93,176.61 395.83,174.55 395.61,172.56 395.26,170.68 394.79,168.90 394.20,167.23 393.49,165.68 392.67,164.26 391.73,162.97 390.68,161.83 389.54,160.83 388.29,159.98 386.96,159.29 385.54,158.75 384.05,158.38 382.48,158.17 380.85,158.12 379.17,158.24 377.44,158.52 375.67,158.97 373.87,159.57 372.05,160.33 370.21,161.24 368.37,162.31 367.01,163.46 365.87,165.07 365.13,166.87 364.90,168.60 365.23,169.99 366.05,170.83 367.24,170.99 368.62,170.46 369.96,169.68 371.30,169.01 372.63,168.46 373.95,168.02 375.24,167.69 376.50,167.49 377.73,167.40 378.92,167.44 380.07,167.59 381.16,167.86 382.19,168.25 383.17,168.76 384.07,169.38 384.91,170.11 385.67,170.94 386.36,171.88 386.96,172.92 387.48,174.05 387.91,175.27 388.26,176.57 388.51,177.95 388.67,179.39 388.74,180.90 388.72,182.47 388.92,183.95 389.63,184.93 390.76,185.25 392.12,184.86 393.50,183.83 394.71,182.31 395.55,180.52" transform="translate(-4.79 -3.00)"/>
<polygon points="395.89,178.76 395.93,176.61 395.83,174.55 395.61,172.56 395.26,170.68 394.79,168.90 394.20,167.23 393.49,165.68 392.67,164.26 391.73,162.97 390.68,161.83 389.54,160.83 388.29,159.98 386.96,159.29 385.54,158.75 384.05,158.38 382.48,158.17 380.85,158.12 379.17,158.24 377.44,158.52 375.67,158.97 373.87,159.57 372.05,160.33 370.21,161.24 368.37,162.31 367.01,163.46 365.87,165.07 365.13,166.87 364.90,168.60 365.23,169.99 366.05,170.83 367.24,170.99 368.62,170.46 369.96,169.68 371.30,169.01 372.63,168.46 373.95,168.02 375.24,167.69 376.50,167.49 377.73,167.40 378.92,167.44 380.07,167.59 381.16,167.86 382.19,168.25 383.17,168.76 384.07,169.38 384.91,170.11 385.67,170.94 386.36,171.88 386.96,172.92 387.48,174.05 387.91,175.27 388.26,176.57 388.51,177.95 388.67,179.39 388.74,180.90 388.72,182.47 388.92,183.95 389.63,184.93 390.76,185.25 392.12,184.86 393.50,183.83 394.71,182.31 395.55,180.52" transform="translate(-3.83 -2.40)"/>
<polygon points="395.89,178.76 395.93,176.61 395.83,174.55 395.61,172.56 395.26,170.68 394.79,168.90 394.20,167.23 393.49,165.68 392.67,164.26 391.73,162.97 390.68,161.83 389.54,160.83 388.29,159.98 386.96,159.29 385.54,158.75 384.05,158.38 382.48,158.17 380.85,158.12 379.17,158.24 377.44,158.52 375.67,158.97 373.87,159.57 372.05,160.33 370.21,161.24 368.37,162.31 367.01,163.46 365.87,165.07 365.13,166.87 364.90,168.60 365.23,169.99 366.05,170.83 367.24,170.99 368.62,170.46 369.96,169.68 371.30,169.01 372.63,168.46 373.95,168.02 375.24,167.69 376.50,167.49 377.73,167.40 378.92,167.44 380.07,167.59 381.16,167.86 382.19,168.25 383.17,168.76 384.07,169.38 384.91,170.11 385.67,170.94 386.36,171.88 386.96,172.92 387.48,174.05 387.91,175.27 388.26,176.57 388.51,177.95 388.67,179.39 388.74,180.90 388.72,182.47 388.92,183.95 389.63,184.93 390.76,185.25 392.12,184.86 393.50,183.83 394.71,182.31 395.55,180.52" transform="translate(-2.87 -1.80)"/>
<polygon points="395.89,178.76 395.93,176.61 395.83,174.55 395.61,172.56 395.26,170.68 394.79,168.90 394.20,167.23 393.49,165.68 392.67,164.26 391.73,162.97 390.68,161.83 389.54,160.83 388.29,159.98 386.96,159.29 385.54,158.75 384.05,158.38 382.48,158.17 380.85,158.12 379.17,158.24 377.44,158.52 375.67,158.97 373.87,159.57 372.05,160.33 370.21,161.24 368.37,162.31 367.01,163.46 365.87,165.07 365.13,166.87 364.90,168.60 365.23,169.99 366.05,170.83 367.24,170.99 368.62,170.46 369.96,169.68 371.30,169.01 372.63,168.46 373.95,168.02 375.24,167.69 376.50,167.49 377.73,167.40 378.92,167.44 380.07,167.59 381.16,167.86 382.19,168.25 383.17,168.76 384.07,169.38 384.91,170.11 385.67,170.94 386.36,171.88 386.96,172.92 387.48,174.05 387.91,175.27 388.26,176.57 388.51,177.95 388.67,179.39 388.74,180.90 388.72,182.47 388.92,183.95 389.63,184.93 390.76,185.25 392.12,184.86 393.50,183.83 394.71,182.31 395.55,180.52" transform="translate(-1.91 -1.20)"/>
<polygon points="395.89,178.76 395.93,176.61 395.83,174.55 395.61,172.56 395.26,170.68 394.79,168.90 394.20,167.23 393.49,165.68 392.67,164.26 391.73,162.97 390.68,161.83 389.54,160.83 388.29,159.98 386.96,159.29 385.54,158.75 384.05,158.38 382.48,158.17 380.85,158.12 379.17,158.24 377.44,158.52 375.67,158.97 373.87,159.57 372.05,160.33 370.21,161.24 368.37,162.31 367.01,163.46 365.87,165.07 365.13,166.87 364.90,168.60 365.23,169.99 366.05,170.83 367.24,170.99 368.62,170.46 369.96,169.68 371.30,169.01 372.63,168.46 373.95,168.02 375.24,167.69 376.50,167.49 377.73,167.40 378.92,167.44 380.07,167.59 381.16,167.86 382.19,168.25 383.17,168.76 384.07,169.38 384.91,170.11 385.67,170.94 386.36,171.88 386.96,172.92 387.48,174.05 387.91,175.27 388.26,176.57 388.51,177.95 388.67,179.39 388.74,180.90 388.72,182.47 388.92,183.95 389.63,184.93 390.76,185.25 392.12,184.86 393.50,183.83 394.71,182.31 395.55,180.52" transform="translate(-0.96 -0.60)"/>
<polygon points="395.89,178.76 395.93,176.61 395.83,174.55 395.61,172.56 395.26,170.68 394.79,168.90 394.20,167.23 393.49,165.68 392.67,164.26 391.73,162.97 390.68,161.83 389.54,160.83 388.29,159.98 386.96,159.29 385.54,158.75 384.05,158.38 382.48,158.17 380.85,158.12 379.17,158.24 377.44,158.52 375.67,158.97 373.87,159.57 372.05,160.33 370.21,161.24 368.37,162.31 367.01,163.46 365.87,165.07 365.13,166.87 364.90,168.60 365.23,169.99 366.05,170.83 367.24,170.99 368.62,170.46 369.96,169.68 371.30,169.01 372.63,168.46 373.95,168.02 375.24,167.69 376.50,167.49 377.73,167.40 378.92,167.44 380.07,167.59 381.16,167.86 382.19,168.25 383.17,168.76 384.07,169.38 384.91,170.11 385.67,170.94 386.36,171.88 386.96,172.92 387.48,174.05 387.91,175.27 388.26,176.57 388.51,177.95 388.67,179.39 388.74,180.90 388.72,182.47 388.92,183.95 389.63,184.93 390.76,185.25 392.12,184.86 393.50,183.83 394.71,182.31 395.55,180.52" transform="translate(-0.00 -0.00)"/>
</g><g fill="#c39bd3" stroke="#c39bd3" stroke-width="0.3">
<polygon points="395.89,178.76 395.93,176.61 395.83,174.55 395.61,172.56 395.26,170.68 394.79,168.90 394.20,167.23 393.49,165.68 392.67,164.26 391.73,162.97 390.68,161.83 389.54,160.83 388.29,159.98 386.96,159.29 385.54,158.75 384.05,158.38 382.48,158.17 380.85,158.12 379.17,158.24 377.44,158.52 375.67,158.97 373.87,159.57 372.05,160.33 370.21,161.24 368.37,162.31 367.01,163.46 365.87,165.07 365.13,166.87 364.90,168.60 365.23,169.99 366.05,170.83 367.24,170.99 368.62,170.46 369.96,169.68 371.30,169.01 372.63,168.46 373.95,168.02 375.24,167.69 376.50,167.49 377.73,167.40 378.92,167.44 380.07,167.59 381.16,167.86 382.19,168.25 383.17,168.76 384.07,169.38 384.91,170.11 385.67,170.94 386.36,171.88 386.96,172.92 387.48,174.05 387.91,175.27 388.26,176.57 388.51,177.95 388.67,179.39 388.74,180.90 388.72,182.47 388.92,183.95 389.63,184.93 390.76,185.25 392.12,184.86 393.50,183.83 394.71,182.31 395.55,180.52" transform="translate(-6.70 -4.20)"/>
<polygon points="395.89,178.76 395.93,176.61 395.83,174.55 395.61,172.56 395.26,170.68 394.79,168.90 394.20,167.23 393.49,165.68 392.67,164.26 391.73,162.97 390.68,161.83 389.54,160.83 388.29,159.98 386.96,159.29 385.54,158.75 384.05,158.38 382.48,158.17 380.85,158.12 379.17,158.24 377.44,158.52 375.67,158.97 373.87,159.57 372.05,160.33 370.21,161.24 368.37,162.31 367.01,163.46 365.87,165.07 365.13,166.87 364.90,168.60 365.23,169.99 366.05,170.83 367.24,170.99 368.62,170.46 369.96,169.68 371.30,169.01 372.63,168.46 373.95,168.02 375.24,167.69 376.50,167.49 377.73,167.40 378.92,167.44 380.07,167.59 381.16,167.86 382.19,168.25 383.17,168.76 384.07,169.38 384.91,170.11 385.67,170.94 386.36,171.88 386.96,172.92 387.48,174.05 387.91,175.27 388.26,176.57 388.51,177.95 388.67,179.39 388.74,180.90 388.72,182.47 388.92,183.95 389.63,184.93 390.76,185.25 392.12,184.86 393.50,183.83 394.71,182.31 395.55,180.52" transform="translate(-5.74 -3.60)"/>
<polygon points="395.89,178.76 395.93,176.61 395.83,174.55 395.61,172.56 395.26,170.68 394.79,168.90 394.20,167.23 393.49,165.68 392.67,164.26 391.73,162.97 390.68,161.83 389.54,160.83 388.29,159.98 386.96,159.29 385.54,158.75 384.05,158.38 382.48,158.17 380.85,158.12 379.17,158.24 377.44,158.52 375.67,158.97 373.87,159.57 372.05,160.33 370.21,161.24 368.37,162.31 367.01,163.46 365.87,165.07 365.13,166.87 364.90,168.60 365.23,169.99 366.05,170.83 367.24,170.99 368.62,170.46 369.96,169.68 371.30,169.01 372.63,168.46 373.95,168.02 375.24,167.69 376.50,167.49 377.73,167.40 378.92,167.44 380.07,167.59 381.16,167.86 382.19,168.25 383.17,168.76 384.07,169.38 384.91,170.11 385.67,170.94 386.36,171.88 386.96,172.92 387.48,174.05 387.91,175.27 388.26,176.57 388.51,177.95 388.67,179.39 388.74,180.90 388.72,182.47 388.92,183.95 389.63,184.93 390.76,185.25 392.12,184.86 393.50,183.83 394.71,182.31 395.55,180.52" transform="translate(-4.79 -3.00)"/>
<polygon points="395.89,178.76 395.93,176.61 395.83,174.55 395.61,172.56 395.26,170.68 394.79,168.90 394.20,167.23 393.49,165.68 392.67,164.26 391.73,162.97 390.68,161.83 389.54,160.83 388.29,159.98 386.96,159.29 385.54,158.75 384.05,158.38 382.48,158.17 380.85,158.12 379.17,158.24 377.44,158.52 375.67,158.97 373.87,159.57 372.05,160.33 370.21,161.24 368.37,162.31 367.01,163.46 365.87,165.07 365.13,166.87 364.90,168.60 365.23,169.99 366.05,170.83 367.24,170.99 368.62,170.46 369.96,169.68 371.30,169.01 372.63,168.46 373.95,168.02 375.24,167.69 376.50,167.49 377.73,167.40 378.92,167.44 380.07,167.59 381.16,167.86 382.19,168.25 383.17,168.76 384.07,169.38 384.91,170.11 385.67,170.94 386.36,171.88 386.96,172.92 387.48,174.05 387.91,175.27 388.26,176.57 388.51,177.95 388.67,179.39 388.74,180.90 388.72,182.47 388.92,183.95 389.63,184.93 390.76,185.25 392.12,184.86 393.50,183.83 394.71,182.31 395.55,180.52" transform="translate(-3.83 -2.40)"/>
<polygon points="395.89,178.76 395.93,176.61 395.83,174.55 395.61,172.56 395.26,170.68 394.79,168.90 394.20,167.23 393.49,165.68 392.67,164.26 391.73,162.97 390.68,161.83 389.54,160.83 388.29,159.98 386.96,159.29 385.54,158.75 384.05,158.38 382.48,158.17 380.85,158.12 379.17,158.24 377.44,158.52 375.67,158.97 373.87,159.57 372.05,160.33 370.21,161.24 368.37,162.31 367.01,163.46 365.87,165.07 365.13,166.87 364.90,168.60 365.23,169.99 366.05,170.83 367.24,170.99 368.62,170.46 369.96,169.68 371.30,169.01 372.63,168.46 373.95,168.02 375.24,167.69 376.50,167.49 377.73,167.40 378.92,167.44 380.07,167.59 381.16,167.86 382.19,168.25 383.17,168.76 384.07,169.38 384.91,170.11 385.67,170.94 386.36,171.88 386.96,172.92 387.48,174.05 387.91,175.27 388.26,176.57 388.51,177.95 388.67,179.39 388.74,180.90 388.72,182.47 388.92,183.95 389.63,184.93 390.76,185.25 392.12,184.86 393.50,183.83 394.71,182.31 395.55,180.52" transform="translate(-2.87 -1.80)"/>
<polygon points="395.89,178.76 395.93,176.61 395.83,174.55 395.61,172.56 395.26,170.68 394.79,168.90 394.20,167.23 393.49,165.68 392.67,164.26 391.73,162.97 390.68,161.83 389.54,160.83 388.29,159.98 386.96,159.29 385.54,158.75 384.05,158.38 382.48,158.17 380.85,158.12 379.17,158.24 377.44,158.52 375.67,158.97 373.87,159.57 372.05,160.33 370.21,161.24 368.37,162.31 367.01,163.46 365.87,165.07 365.13,166.87 364.90,168.60 365.23,169.99 366.05,170.83 367.24,170.99 368.62,170.46 369.96,169.68 371.30,169.01 372.63,168.46 373.95,168.02 375.24,167.69 376.50,167.49 377.73,167.40 378.92,167.44 380.07,167.59 381.16,167.86 382.19,168.25 383.17,168.76 384.07,169.38 384.91,170.11 385.67,170.94 386.36,171.88 386.96,172.92 387.48,174.05 387.91,175.27 388.26,176.57 388.51,177.95 388.67,179.39 388.74,180.90 388.72,182.47 388.92,183.95 389.63,184.93 390.76,185.25 392.12,184.86 393.50,183.83 394.71,182.31 395.55,180.52" transform="translate(-1.91 -1.20)"/>
<polygon points="395.89,178.76 395.93,176.61 395.83,174.55 395.61,172.56 395.26,170.68 394.79,168.90 394.20,167.23 393.49,165.68 392.67,164.26 391.73,162.97 390.68,161.83 389.54,160.83 388.29,159.98 386.96,159.29 385.54,158.75 384.05,158.38 382.48,158.17 380.85,158.12 379.17,158.24 377.44,158.52 375.67,158.97 373.87,159.57 372.05,160.33 370.21,161.24 368.37,162.31 367.01,163.46 365.87,165.07 365.13,166.87 364.90,168.60 365.23,169.99 366.05,170.83 367.24,170.99 368.62,170.46 369.96,169.68 371.30,169.01 372.63,168.46 373.95,168.02 375.24,167.69 376.50,167.49 377.73,167.40 378.92,167.44 380.07,167.59 381.16,167.86 382.19,168.25 383.17,168.76 384.07,169.38 384.91,170.11 385.67,170.94 386.36,171.88 386.96,172.92 387.48,174.05 387.91,175.27 388.26,176.57 388.51,177.95 388.67,179.39 388.74,180.90 388.72,182.47 388.92,183.95 389.63,184.93 390.76,185.25 392.12,184.86 393.50,183.83 394.71,182.31 395.55,180.52" transform="translate(-0.96 -0.60)"/>
</g>
<path d="M395.89,178.76 L395.55,180.52 L388.85,176.32 L389.19,174.56Z M395.55,180.52 L394.71,182.31 L388.01,178.11 L388.85,176.32Z M394.71,182.31 L393.50,183.83 L386.80,179.63 L388.01,178.11Z M393.50,183.83 L392.12,184.86 L385.42,180.66 L386.80,179.63Z M392.12,184.86 L390.76,185.25 L384.06,181.05 L385.42,180.66Z M390.76,185.25 L389.63,184.93 L382.93,180.73 L384.06,181.05Z M382.93,180.73 L382.22,179.75 L388.92,183.95 L389.63,184.93Z M382.22,179.75 L382.02,178.27 L388.72,182.47 L388.92,183.95Z M388.72,182.47 L388.72,182.47 L382.02,178.27 L382.02,178.27Z M382.02,178.27 L382.04,176.80 L388.74,181.00 L388.72,182.47Z M382.04,176.80 L381.98,175.39 L388.68,179.59 L388.74,181.00Z M381.98,175.39 L381.85,174.02 L388.55,178.22 L388.68,179.59Z M381.85,174.02 L381.63,172.72 L388.33,176.92 L388.55,178.22Z M381.63,172.72 L381.33,171.48 L388.03,175.68 L388.33,176.92Z M381.33,171.48 L380.96,170.32 L387.66,174.52 L388.03,175.68Z M380.96,170.32 L380.51,169.22 L387.21,173.42 L387.66,174.52Z M380.51,169.22 L379.98,168.21 L386.68,172.41 L387.21,173.42Z M379.98,168.21 L379.39,167.28 L386.09,171.48 L386.68,172.41Z M379.39,167.28 L378.72,166.44 L385.42,170.64 L386.09,171.48Z M378.72,166.44 L377.98,165.69 L384.68,169.89 L385.42,170.64Z M377.98,165.69 L377.18,165.03 L383.88,169.23 L384.68,169.89Z " fill="#3a3c3e" stroke="#3a3c3e" stroke-width="0.3" stroke-linejoin="round" stroke-linecap="round" />
<polygon points="395.89,178.76 395.93,176.61 395.83,174.55 395.61,172.56 395.26,170.68 394.79,168.90 394.20,167.23 393.49,165.68 392.67,164.26 391.73,162.97 390.68,161.83 389.54,160.83 388.29,159.98 386.96,159.29 385.54,158.75 384.05,158.38 382.48,158.17 380.85,158.12 379.17,158.24 377.44,158.52 375.67,158.97 373.87,159.57 372.05,160.33 370.21,161.24 368.37,162.31 367.01,163.46 365.87,165.07 365.13,166.87 364.90,168.60 365.23,169.99 366.05,170.83 367.24,170.99 368.62,170.46 369.96,169.68 371.30,169.01 372.63,168.46 373.95,168.02 375.24,167.69 376.50,167.49 377.73,167.40 378.92,167.44 380.07,167.59 381.16,167.86 382.19,168.25 383.17,168.76 384.07,169.38 384.91,170.11 385.67,170.94 386.36,171.88 386.96,172.92 387.48,174.05 387.91,175.27 388.26,176.57 388.51,177.95 388.67,179.39 388.74,180.90 388.72,182.47 388.92,183.95 389.63,184.93 390.76,185.25 392.12,184.86 393.50,183.83 394.71,182.31 395.55,180.52" fill="#fff" stroke="#2c2d2e" stroke-width="1.1" stroke-linejoin="round" />
<g fill="#2c2d2e" stroke="#2c2d2e" stroke-width="2.2" stroke-linejoin="round">
<polygon points="377.35,185.65 377.20,183.93 376.74,182.45 376.00,181.27 374.99,180.44 373.77,179.98 372.38,179.93 370.87,180.27 369.30,181.00 367.73,182.09 366.22,183.49 364.83,185.15 363.61,187.01 362.60,189.00 361.86,191.04 361.40,193.05 361.25,194.95 361.40,196.67 361.86,198.15 362.60,199.33 363.61,200.16 364.83,200.62 366.22,200.67 367.73,200.33 369.30,199.60 370.87,198.51 372.38,197.11 373.77,195.45 374.99,193.59 376.00,191.60 376.74,189.56 377.20,187.55" transform="translate(-6.70 -4.20)"/>
<polygon points="377.35,185.65 377.20,183.93 376.74,182.45 376.00,181.27 374.99,180.44 373.77,179.98 372.38,179.93 370.87,180.27 369.30,181.00 367.73,182.09 366.22,183.49 364.83,185.15 363.61,187.01 362.60,189.00 361.86,191.04 361.40,193.05 361.25,194.95 361.40,196.67 361.86,198.15 362.60,199.33 363.61,200.16 364.83,200.62 366.22,200.67 367.73,200.33 369.30,199.60 370.87,198.51 372.38,197.11 373.77,195.45 374.99,193.59 376.00,191.60 376.74,189.56 377.20,187.55" transform="translate(-5.74 -3.60)"/>
<polygon points="377.35,185.65 377.20,183.93 376.74,182.45 376.00,181.27 374.99,180.44 373.77,179.98 372.38,179.93 370.87,180.27 369.30,181.00 367.73,182.09 366.22,183.49 364.83,185.15 363.61,187.01 362.60,189.00 361.86,191.04 361.40,193.05 361.25,194.95 361.40,196.67 361.86,198.15 362.60,199.33 363.61,200.16 364.83,200.62 366.22,200.67 367.73,200.33 369.30,199.60 370.87,198.51 372.38,197.11 373.77,195.45 374.99,193.59 376.00,191.60 376.74,189.56 377.20,187.55" transform="translate(-4.79 -3.00)"/>
<polygon points="377.35,185.65 377.20,183.93 376.74,182.45 376.00,181.27 374.99,180.44 373.77,179.98 372.38,179.93 370.87,180.27 369.30,181.00 367.73,182.09 366.22,183.49 364.83,185.15 363.61,187.01 362.60,189.00 361.86,191.04 361.40,193.05 361.25,194.95 361.40,196.67 361.86,198.15 362.60,199.33 363.61,200.16 364.83,200.62 366.22,200.67 367.73,200.33 369.30,199.60 370.87,198.51 372.38,197.11 373.77,195.45 374.99,193.59 376.00,191.60 376.74,189.56 377.20,187.55" transform="translate(-3.83 -2.40)"/>
<polygon points="377.35,185.65 377.20,183.93 376.74,182.45 376.00,181.27 374.99,180.44 373.77,179.98 372.38,179.93 370.87,180.27 369.30,181.00 367.73,182.09 366.22,183.49 364.83,185.15 363.61,187.01 362.60,189.00 361.86,191.04 361.40,193.05 361.25,194.95 361.40,196.67 361.86,198.15 362.60,199.33 363.61,200.16 364.83,200.62 366.22,200.67 367.73,200.33 369.30,199.60 370.87,198.51 372.38,197.11 373.77,195.45 374.99,193.59 376.00,191.60 376.74,189.56 377.20,187.55" transform="translate(-2.87 -1.80)"/>
<polygon points="377.35,185.65 377.20,183.93 376.74,182.45 376.00,181.27 374.99,180.44 373.77,179.98 372.38,179.93 370.87,180.27 369.30,181.00 367.73,182.09 366.22,183.49 364.83,185.15 363.61,187.01 362.60,189.00 361.86,191.04 361.40,193.05 361.25,194.95 361.40,196.67 361.86,198.15 362.60,199.33 363.61,200.16 364.83,200.62 366.22,200.67 367.73,200.33 369.30,199.60 370.87,198.51 372.38,197.11 373.77,195.45 374.99,193.59 376.00,191.60 376.74,189.56 377.20,187.55" transform="translate(-1.91 -1.20)"/>
<polygon points="377.35,185.65 377.20,183.93 376.74,182.45 376.00,181.27 374.99,180.44 373.77,179.98 372.38,179.93 370.87,180.27 369.30,181.00 367.73,182.09 366.22,183.49 364.83,185.15 363.61,187.01 362.60,189.00 361.86,191.04 361.40,193.05 361.25,194.95 361.40,196.67 361.86,198.15 362.60,199.33 363.61,200.16 364.83,200.62 366.22,200.67 367.73,200.33 369.30,199.60 370.87,198.51 372.38,197.11 373.77,195.45 374.99,193.59 376.00,191.60 376.74,189.56 377.20,187.55" transform="translate(-0.96 -0.60)"/>
<polygon points="377.35,185.65 377.20,183.93 376.74,182.45 376.00,181.27 374.99,180.44 373.77,179.98 372.38,179.93 370.87,180.27 369.30,181.00 367.73,182.09 366.22,183.49 364.83,185.15 363.61,187.01 362.60,189.00 361.86,191.04 361.40,193.05 361.25,194.95 361.40,196.67 361.86,198.15 362.60,199.33 363.61,200.16 364.83,200.62 366.22,200.67 367.73,200.33 369.30,199.60 370.87,198.51 372.38,197.11 373.77,195.45 374.99,193.59 376.00,191.60 376.74,189.56 377.20,187.55" transform="translate(-0.00 -0.00)"/>
</g><g fill="#c39bd3" stroke="#c39bd3" stroke-width="0.3">
<polygon points="377.35,185.65 377.20,183.93 376.74,182.45 376.00,181.27 374.99,180.44 373.77,179.98 372.38,179.93 370.87,180.27 369.30,181.00 367.73,182.09 366.22,183.49 364.83,185.15 363.61,187.01 362.60,189.00 361.86,191.04 361.40,193.05 361.25,194.95 361.40,196.67 361.86,198.15 362.60,199.33 363.61,200.16 364.83,200.62 366.22,200.67 367.73,200.33 369.30,199.60 370.87,198.51 372.38,197.11 373.77,195.45 374.99,193.59 376.00,191.60 376.74,189.56 377.20,187.55" transform="translate(-6.70 -4.20)"/>
<polygon points="377.35,185.65 377.20,183.93 376.74,182.45 376.00,181.27 374.99,180.44 373.77,179.98 372.38,179.93 370.87,180.27 369.30,181.00 367.73,182.09 366.22,183.49 364.83,185.15 363.61,187.01 362.60,189.00 361.86,191.04 361.40,193.05 361.25,194.95 361.40,196.67 361.86,198.15 362.60,199.33 363.61,200.16 364.83,200.62 366.22,200.67 367.73,200.33 369.30,199.60 370.87,198.51 372.38,197.11 373.77,195.45 374.99,193.59 376.00,191.60 376.74,189.56 377.20,187.55" transform="translate(-5.74 -3.60)"/>
<polygon points="377.35,185.65 377.20,183.93 376.74,182.45 376.00,181.27 374.99,180.44 373.77,179.98 372.38,179.93 370.87,180.27 369.30,181.00 367.73,182.09 366.22,183.49 364.83,185.15 363.61,187.01 362.60,189.00 361.86,191.04 361.40,193.05 361.25,194.95 361.40,196.67 361.86,198.15 362.60,199.33 363.61,200.16 364.83,200.62 366.22,200.67 367.73,200.33 369.30,199.60 370.87,198.51 372.38,197.11 373.77,195.45 374.99,193.59 376.00,191.60 376.74,189.56 377.20,187.55" transform="translate(-4.79 -3.00)"/>
<polygon points="377.35,185.65 377.20,183.93 376.74,182.45 376.00,181.27 374.99,180.44 373.77,179.98 372.38,179.93 370.87,180.27 369.30,181.00 367.73,182.09 366.22,183.49 364.83,185.15 363.61,187.01 362.60,189.00 361.86,191.04 361.40,193.05 361.25,194.95 361.40,196.67 361.86,198.15 362.60,199.33 363.61,200.16 364.83,200.62 366.22,200.67 367.73,200.33 369.30,199.60 370.87,198.51 372.38,197.11 373.77,195.45 374.99,193.59 376.00,191.60 376.74,189.56 377.20,187.55" transform="translate(-3.83 -2.40)"/>
<polygon points="377.35,185.65 377.20,183.93 376.74,182.45 376.00,181.27 374.99,180.44 373.77,179.98 372.38,179.93 370.87,180.27 369.30,181.00 367.73,182.09 366.22,183.49 364.83,185.15 363.61,187.01 362.60,189.00 361.86,191.04 361.40,193.05 361.25,194.95 361.40,196.67 361.86,198.15 362.60,199.33 363.61,200.16 364.83,200.62 366.22,200.67 367.73,200.33 369.30,199.60 370.87,198.51 372.38,197.11 373.77,195.45 374.99,193.59 376.00,191.60 376.74,189.56 377.20,187.55" transform="translate(-2.87 -1.80)"/>
<polygon points="377.35,185.65 377.20,183.93 376.74,182.45 376.00,181.27 374.99,180.44 373.77,179.98 372.38,179.93 370.87,180.27 369.30,181.00 367.73,182.09 366.22,183.49 364.83,185.15 363.61,187.01 362.60,189.00 361.86,191.04 361.40,193.05 361.25,194.95 361.40,196.67 361.86,198.15 362.60,199.33 363.61,200.16 364.83,200.62 366.22,200.67 367.73,200.33 369.30,199.60 370.87,198.51 372.38,197.11 373.77,195.45 374.99,193.59 376.00,191.60 376.74,189.56 377.20,187.55" transform="translate(-1.91 -1.20)"/>
<polygon points="377.35,185.65 377.20,183.93 376.74,182.45 376.00,181.27 374.99,180.44 373.77,179.98 372.38,179.93 370.87,180.27 369.30,181.00 367.73,182.09 366.22,183.49 364.83,185.15 363.61,187.01 362.60,189.00 361.86,191.04 361.40,193.05 361.25,194.95 361.40,196.67 361.86,198.15 362.60,199.33 363.61,200.16 364.83,200.62 366.22,200.67 367.73,200.33 369.30,199.60 370.87,198.51 372.38,197.11 373.77,195.45 374.99,193.59 376.00,191.60 376.74,189.56 377.20,187.55" transform="translate(-0.96 -0.60)"/>
</g>
<polygon points="377.35,185.65 377.20,183.93 376.74,182.45 376.00,181.27 374.99,180.44 373.77,179.98 372.38,179.93 370.87,180.27 369.30,181.00 367.73,182.09 366.22,183.49 364.83,185.15 363.61,187.01 362.60,189.00 361.86,191.04 361.40,193.05 361.25,194.95 361.40,196.67 361.86,198.15 362.60,199.33 363.61,200.16 364.83,200.62 366.22,200.67 367.73,200.33 369.30,199.60 370.87,198.51 372.38,197.11 373.77,195.45 374.99,193.59 376.00,191.60 376.74,189.56 377.20,187.55" fill="#fff" stroke="#2c2d2e" stroke-width="1.1" stroke-linejoin="round" />
<polygon points="441.45,259.05 441.23,255.72 440.58,252.21 439.52,248.63 438.06,245.04 436.25,241.55 434.13,238.24 431.76,235.19 429.19,232.47 426.48,230.16 423.70,228.30 420.92,226.95 418.21,226.14 415.64,225.88 413.27,226.19 411.15,227.06 409.34,228.46 407.88,230.36 406.82,232.72 406.17,235.47 405.95,238.55 406.17,241.88 406.82,245.39 407.88,248.97 409.34,252.56 411.15,256.05 413.27,259.36 415.64,262.41 418.21,265.13 420.92,267.44 423.70,269.30 426.48,270.65 429.19,271.46 431.76,271.72 434.13,271.41 436.25,270.54 438.06,269.14 439.52,267.24 440.58,264.88 441.23,262.13" fill="#e0cde6" stroke="#2c2d2e" stroke-width="1.3" stroke-linejoin="round" />
<polyline points="428.43,253.05 427.93,252.22 427.38,251.42 426.79,250.67 426.17,249.98 425.51,249.34 424.84,248.78 424.16,248.28 423.47,247.87 422.78,247.55 422.11,247.31 421.45,247.16 420.81,247.10 420.21,247.14 419.65,247.27 419.13,247.49 418.66,247.80" fill="none" stroke="#2c2d2e" stroke-width="1.3" stroke-linejoin="round" stroke-linecap="round" />
<polyline points="431.11,251.61 430.32,250.31 429.46,249.06 428.54,247.89 427.56,246.80 426.54,245.80 425.49,244.91 424.42,244.14 423.34,243.50 422.27,242.99 421.21,242.61 420.18,242.38 419.18,242.30 418.24,242.36 417.36,242.56 416.54,242.91 415.81,243.39" fill="none" stroke="#2c2d2e" stroke-width="1.3" stroke-linejoin="round" stroke-linecap="round" />
<polyline points="433.73,250.21 432.66,248.44 431.50,246.75 430.25,245.16 428.92,243.69 427.54,242.34 426.12,241.14 424.67,240.10 423.21,239.23 421.76,238.54 420.33,238.03 418.93,237.72 417.59,237.60 416.31,237.68 415.12,237.96 414.01,238.43 413.02,239.08" fill="none" stroke="#2c2d2e" stroke-width="1.3" stroke-linejoin="round" stroke-linecap="round" />
<polygon points="425.78,256.80 425.62,255.79 425.17,254.75 424.50,253.84 423.70,253.20 422.90,252.92 422.23,253.05 421.78,253.57 421.62,254.40 421.78,255.41 422.23,256.45 422.90,257.36 423.70,258.00 424.50,258.28 425.17,258.15 425.62,257.63" fill="#e0cde6" stroke="#2c2d2e" stroke-width="1.3" stroke-linejoin="round" />
<path d="M467.5,243.8 C463.5,253.8 465.5,268.8 476.0,273.8 C477.5,282.5 484.2,286.8 491.0,288.2 C498.0,292.8 508.0,292.2 513.5,290.8 C520.5,293.2 533.0,291.2 538.0,286.2 C545.5,284.2 549.5,277.5 549.0,270.0 C558.0,263.8 558.0,248.8 548.0,243.8 C523.0,238.8 493.0,238.8 467.5,243.8 Z" fill="#b9b9b9" stroke="#808080" stroke-width="1.4" stroke-linejoin="round" stroke-linecap="round" />
<path d="M509.2,185.0 C508.0,173.8 515.5,168.2 520.5,168.2 C530.5,168.2 536.0,183.8 536.8,195.5 C546.8,191.2 555.5,203.8 555.0,216.8 C564.2,222.5 564.2,237.5 556.8,242.5 C561.8,252.5 558.0,262.5 549.8,266.2 C544.2,270.8 533.0,270.0 529.2,263.2 C524.2,271.2 514.2,270.0 511.8,261.2 C506.8,268.2 494.2,266.2 491.8,253.8 C486.8,260.0 478.0,260.8 473.0,260.8 C466.0,256.2 465.0,247.5 469.2,242.5 C460.5,233.8 462.5,216.2 472.5,210.0 C471.0,200.0 478.0,192.5 485.0,193.8 C488.0,183.8 500.5,180.0 509.2,185.0 Z" fill="#ededed" stroke="#808080" stroke-width="1.4" stroke-linejoin="round" stroke-linecap="round" />
<polygon points="123.00,270.00 193.75,310.00 194.30,381.00 122.80,339.80" fill="#fff" stroke="#2c2d2e" stroke-width="1.4" stroke-linejoin="round" />
<polygon points="193.75,310.00 273.25,265.50 273.25,335.00 194.30,381.00" fill="#9acfea" stroke="#2c2d2e" stroke-width="1.4" stroke-linejoin="round" />
<polygon points="167.00,203.75 232.50,242.50 193.75,310.00 123.00,270.00" fill="#9acfea" stroke="#2c2d2e" stroke-width="1.4" stroke-linejoin="round" />
<polygon points="232.50,242.50 273.25,265.50 193.75,310.00" fill="#0090d4" stroke="#2c2d2e" stroke-width="1.4" stroke-linejoin="round" />
<polygon points="178.75,236.25 187.50,240.75 187.50,263.00 178.75,258.00" fill="#fff" stroke="#2c2d2e" stroke-width="1" stroke-linejoin="round" />
<polygon points="187.50,240.75 196.25,236.25 196.25,252.50 187.50,263.00" fill="#3a3d3e" stroke="#2c2d2e" stroke-width="1" stroke-linejoin="round" />
<polygon points="178.75,236.25 187.50,231.25 196.25,236.25 187.50,240.75" fill="#fff" stroke="#2c2d2e" stroke-width="1" stroke-linejoin="round" />
<polygon points="183.20,236.20 187.50,233.80 191.80,236.20 187.50,238.60" fill="#3a3d3e" stroke="none" stroke-width="1" stroke-linejoin="round" />
<polygon points="231.75,263.75 239.50,259.50 239.50,270.50 231.75,275.50" fill="#9acfea" stroke="#2c2d2e" stroke-width="0.8" stroke-linejoin="round" />
<polygon points="231.75,263.75 238.00,260.30 238.00,269.60 231.75,273.30" fill="#2e3133" stroke="none" stroke-width="1" stroke-linejoin="round" />
<polygon points="137.60,302.00 177.00,323.60 177.00,352.80 137.60,330.00" fill="#0090d4" stroke="#2c2d2e" stroke-width="0.8" stroke-linejoin="round" />
<polygon points="139.50,303.00 150.00,308.80 150.00,335.20 139.50,329.20" fill="#2e3133" stroke="none" stroke-width="1" stroke-linejoin="round" />
<polygon points="150.00,308.80 163.00,316.00 163.00,342.80 150.00,335.20" fill="#9acfea" stroke="none" stroke-width="1" stroke-linejoin="round" />
<polygon points="163.00,316.00 177.00,323.60 177.00,350.60 163.00,342.80" fill="#2e3133" stroke="none" stroke-width="1" stroke-linejoin="round" />
<polygon points="207.00,323.75 229.50,312.00 229.50,340.00 207.00,352.00" fill="#9acfea" stroke="#2c2d2e" stroke-width="0.8" stroke-linejoin="round" />
<polygon points="207.00,349.20 229.50,337.40 229.50,340.00 207.00,352.00" fill="#0090d4" stroke="none" stroke-width="1" stroke-linejoin="round" />
<polygon points="207.00,323.75 217.00,318.50 217.00,344.00 207.00,349.20" fill="#2e3133" stroke="none" stroke-width="1" stroke-linejoin="round" />
<polygon points="217.00,318.50 227.40,313.10 227.40,338.50 217.00,344.00" fill="#9acfea" stroke="#2c2d2e" stroke-width="0.7" stroke-linejoin="round" />
<polygon points="207.00,323.75 229.50,312.00 229.50,340.00 207.00,352.00" fill="none" stroke="#2c2d2e" stroke-width="0.9" stroke-linejoin="round" />
<polygon points="238.00,306.25 260.00,293.75 260.00,321.25 238.00,333.75" fill="#9acfea" stroke="#2c2d2e" stroke-width="0.8" stroke-linejoin="round" />
<polygon points="238.00,331.20 260.00,318.70 260.00,321.25 238.00,333.75" fill="#0090d4" stroke="none" stroke-width="1" stroke-linejoin="round" />
<polygon points="238.00,306.25 248.00,300.60 248.00,325.50 238.00,331.20" fill="#fff" stroke="none" stroke-width="1" stroke-linejoin="round" />
<polygon points="248.00,300.60 257.90,295.00 257.90,319.90 248.00,325.50" fill="#9acfea" stroke="#2c2d2e" stroke-width="0.7" stroke-linejoin="round" />
<polygon points="238.00,306.25 260.00,293.75 260.00,321.25 238.00,333.75" fill="none" stroke="#2c2d2e" stroke-width="0.9" stroke-linejoin="round" />
<polygon points="407.50,370.50 407.50,297.50 449.50,274.50 489.50,343.75 490.00,417.50" fill="#fff" stroke="#2c2d2e" stroke-width="1.4" stroke-linejoin="round" />
<polygon points="489.50,343.75 579.00,294.00 579.00,367.50 490.00,417.50" fill="#9acfea" stroke="#2c2d2e" stroke-width="1.4" stroke-linejoin="round" />
<polygon points="449.50,274.50 533.75,226.00 579.00,294.00 489.50,343.75" fill="#0090d4" stroke="#2c2d2e" stroke-width="1.4" stroke-linejoin="round" />
<polyline points="407.50,297.50 489.50,343.75" fill="none" stroke="#2c2d2e" stroke-width="0.9" stroke-linejoin="round" stroke-linecap="round" />
<polygon points="488.00,268.75 497.00,273.00 497.00,296.25 488.00,283.75" fill="#fff" stroke="#2c2d2e" stroke-width="1" stroke-linejoin="round" />
<polygon points="497.00,273.00 505.00,268.25 505.00,291.25 497.00,296.25" fill="#9acfea" stroke="#2c2d2e" stroke-width="1" stroke-linejoin="round" />
<polygon points="488.00,268.75 496.25,263.75 505.00,268.25 497.00,273.00" fill="#fff" stroke="#2c2d2e" stroke-width="1" stroke-linejoin="round" />
<polygon points="492.30,268.60 496.40,266.20 500.70,268.40 496.80,270.70" fill="#2e3133" stroke="none" stroke-width="1" stroke-linejoin="round" />
<ellipse cx="448.75" cy="304.5" rx="3.6" ry="5.3" transform="rotate(-25 448.75 304.5)" fill="#e0cde6" stroke="#2c2d2e" stroke-width="1"/>
<clipPath id="ventc"><ellipse cx="448.75" cy="304.5" rx="3.6" ry="5.3" transform="rotate(-25 448.75 304.5)"/></clipPath>
<g clip-path="url(#ventc)"><ellipse cx="448.75" cy="304.5" rx="3.6" ry="5.3" transform="rotate(-25 448.75 304.5)" fill="#2c2d2e"/><ellipse cx="450.3" cy="305" rx="3.4" ry="5.3" transform="rotate(-25 450.3 305)" fill="#e0cde6"/></g>
<ellipse cx="448.75" cy="304.5" rx="3.6" ry="5.3" transform="rotate(-25 448.75 304.5)" fill="none" stroke="#2c2d2e" stroke-width="1"/>
<polygon points="532.50,341.25 556.25,328.75 556.25,378.75 532.50,392.00" fill="#9acfea" stroke="#2c2d2e" stroke-width="0.8" stroke-linejoin="round" />
<polygon points="532.50,341.25 553.00,331.25 553.00,378.75 532.50,390.00" fill="#33363a" stroke="#2c2d2e" stroke-width="0.8" stroke-linejoin="round" />
<polyline points="535.50,363.00 535.50,367.50" fill="none" stroke="#e8c8ee" stroke-width="1" stroke-linejoin="round" stroke-linecap="round" />
<polygon points="421.25,327.50 444.50,340.50 444.50,370.00 421.25,357.00" fill="#9acfea" stroke="#2c2d2e" stroke-width="0.8" stroke-linejoin="round" />
<polygon points="423.20,328.70 444.50,340.50 444.50,367.60 423.20,355.60" fill="#fff" stroke="#2c2d2e" stroke-width="0.8" stroke-linejoin="round" />
<polygon points="433.50,334.40 444.50,340.50 444.50,367.60 433.50,361.40" fill="#e9eef2" stroke="none" stroke-width="1" stroke-linejoin="round" />
<polygon points="423.20,328.70 444.50,340.50 444.50,367.60 423.20,355.60" fill="none" stroke="#2c2d2e" stroke-width="0.8" stroke-linejoin="round" />
<polyline points="433.00,334.10 433.00,361.10" fill="none" stroke="#2c2d2e" stroke-width="1.1" stroke-linejoin="round" stroke-linecap="round" />
<polyline points="423.20,338.50 444.50,350.50" fill="none" stroke="#2c2d2e" stroke-width="1.1" stroke-linejoin="round" stroke-linecap="round" />
<polygon points="453.75,346.25 475.75,358.75 475.75,387.50 453.75,375.00" fill="#9acfea" stroke="#2c2d2e" stroke-width="0.8" stroke-linejoin="round" />
<polygon points="455.70,347.40 465.70,353.00 465.70,379.60 455.70,373.80" fill="#2e3133" stroke="none" stroke-width="1" stroke-linejoin="round" />
<polygon points="465.70,353.00 475.75,358.75 475.75,385.20 465.70,379.60" fill="#9acfea" stroke="#2c2d2e" stroke-width="0.8" stroke-linejoin="round" />
<polyline points="465.70,353.00 465.70,379.60" fill="none" stroke="#2c2d2e" stroke-width="0.9" stroke-linejoin="round" stroke-linecap="round" />
<polyline points="455.70,358.00 475.75,369.50" fill="none" stroke="#2c2d2e" stroke-width="0.9" stroke-linejoin="round" stroke-linecap="round" />
<polygon points="595.00,131.25 682.00,179.50 682.00,268.75 595.00,220.50" fill="#fff" stroke="#2c2d2e" stroke-width="1.4" stroke-linejoin="round" />
<polygon points="682.00,179.50 779.50,123.75 779.50,213.00 682.00,268.75" fill="#9acfea" stroke="#2c2d2e" stroke-width="1.4" stroke-linejoin="round" />
<polygon points="595.00,131.25 692.50,75.50 692.50,170.00 682.00,179.50" fill="#9acfea" stroke="none" stroke-width="1" stroke-linejoin="round" />
<polygon points="692.50,75.50 779.50,123.75 682.00,179.50 692.50,170.00" fill="#fff" stroke="none" stroke-width="1" stroke-linejoin="round" />
<polygon points="677.00,170.50 689.50,163.50 695.50,167.00 683.00,174.00" fill="#fff" stroke="#2c2d2e" stroke-width="0.8" stroke-linejoin="round" />
<polyline points="692.50,78.00 692.50,135.00" fill="none" stroke="#2c2d2e" stroke-width="1" stroke-linejoin="round" stroke-linecap="round" />
<polygon points="598.50,131.50 692.50,78.00 776.00,123.90 682.00,177.00" fill="none" stroke="#33383a" stroke-width="4.6" stroke-linejoin="miter"/>
<path d="M649.26,87.50 L700.34,115.90 Q703.40,117.60 703.40,121.10 L703.40,161.60 Q703.40,165.10 700.34,163.40 L649.26,135.00 Q646.20,133.30 646.20,129.80 L646.20,89.30 Q646.20,85.80 649.26,87.50 Z" fill="#fff" stroke="#2c2d2e" stroke-width="0.9" stroke-linejoin="round" stroke-linecap="round" />
<path d="M645.22,89.66 L697.18,118.54 Q699.80,120.00 699.80,123.00 L699.80,164.50 Q699.80,167.50 697.18,166.04 L645.22,137.16 Q642.60,135.70 642.60,132.70 L642.60,91.20 Q642.60,88.20 645.22,89.66 Z" fill="#fff" stroke="#2c2d2e" stroke-width="1.6" stroke-linejoin="round" stroke-linecap="round" />
<clipPath id="cardclip"><path d="M645.22,89.66 L697.18,118.54 Q699.80,120.00 699.80,123.00 L699.80,164.50 Q699.80,167.50 697.18,166.04 L645.22,137.16 Q642.60,135.70 642.60,132.70 L642.60,91.20 Q642.60,88.20 645.22,89.66 Z"/></clipPath>
<g clip-path="url(#cardclip)">
<polygon points="642.60,113.40 699.80,145.70 699.80,169.50 642.60,137.70" fill="#c39bd3" stroke="none" stroke-width="1" stroke-linejoin="round" />
</g>
<path d="M645.22,89.66 L697.18,118.54 Q699.80,120.00 699.80,123.00 L699.80,164.50 Q699.80,167.50 697.18,166.04 L645.22,137.16 Q642.60,135.70 642.60,132.70 L642.60,91.20 Q642.60,88.20 645.22,89.66 Z" fill="none" stroke="#2c2d2e" stroke-width="1.6" stroke-linejoin="round" stroke-linecap="round" />
<line x1="665.12" y1="111.40" x2="678.97" y2="119.40" stroke="#2c2d2e" stroke-width="1.50" stroke-dasharray="none"/>
<line x1="665.12" y1="113.80" x2="687.63" y2="126.80" stroke="#2c2d2e" stroke-width="0.90" stroke-dasharray="1.1 0.7"/>
<line x1="665.98" y1="116.10" x2="689.36" y2="129.60" stroke="#2c2d2e" stroke-width="0.90" stroke-dasharray="1.1 0.7"/>
<line x1="671.18" y1="120.90" x2="689.36" y2="131.40" stroke="#2c2d2e" stroke-width="0.90" stroke-dasharray="1.1 0.7"/>
<line x1="651.26" y1="125.70" x2="660.79" y2="131.20" stroke="#2c2d2e" stroke-width="1.80" stroke-dasharray="none"/>
<line x1="651.26" y1="129.40" x2="662.52" y2="135.90" stroke="#2c2d2e" stroke-width="0.90" stroke-dasharray="1.1 0.7"/>
<line x1="651.26" y1="131.20" x2="674.64" y2="144.70" stroke="#2c2d2e" stroke-width="0.90" stroke-dasharray="1.1 0.7"/>
<line x1="652.13" y1="133.50" x2="674.64" y2="146.50" stroke="#2c2d2e" stroke-width="0.90" stroke-dasharray="1.1 0.7"/>
<line x1="680.01" y1="138.40" x2="689.36" y2="143.80" stroke="#2c2d2e" stroke-width="1.50" stroke-dasharray="1.0 0.6 1.1 0.5"/>
<line x1="680.01" y1="139.95" x2="689.36" y2="145.35" stroke="#2c2d2e" stroke-width="1.50" stroke-dasharray="1.3 0.6 0.7 0.5"/>
<line x1="680.01" y1="141.50" x2="689.36" y2="146.90" stroke="#2c2d2e" stroke-width="1.50" stroke-dasharray="1.6 0.6 1.1 0.5"/>
<line x1="680.01" y1="143.05" x2="689.36" y2="148.45" stroke="#2c2d2e" stroke-width="1.50" stroke-dasharray="1.0 0.6 0.7 0.5"/>
<line x1="680.01" y1="144.60" x2="689.36" y2="150.00" stroke="#2c2d2e" stroke-width="1.50" stroke-dasharray="1.3 0.6 1.1 0.5"/>
<line x1="680.01" y1="146.15" x2="689.36" y2="151.55" stroke="#2c2d2e" stroke-width="1.50" stroke-dasharray="1.6 0.6 0.7 0.5"/>
<line x1="680.01" y1="147.70" x2="689.36" y2="153.10" stroke="#2c2d2e" stroke-width="1.50" stroke-dasharray="1.0 0.6 1.1 0.5"/>
<polygon points="660.96,109.40 660.79,107.86 660.31,106.22 659.54,104.62 658.53,103.15 657.36,101.92 656.11,101.00 654.85,100.47 653.68,100.35 652.68,100.66 651.91,101.38 651.43,102.45 651.26,103.80 651.43,105.34 651.91,106.98 652.68,108.58 653.68,110.05 654.85,111.28 656.11,112.20 657.36,112.73 658.53,112.85 659.54,112.54 660.31,111.82 660.79,110.75" fill="#cfe6f3" stroke="#5f93b5" stroke-width="0.8" stroke-linejoin="round" />
<polyline points="598.50,131.50 682.00,177.00 776.00,123.90" fill="none" stroke="#33383a" stroke-width="4.6" stroke-linejoin="miter"/>
<polygon points="622.50,173.75 650.00,188.75 650.00,249.50 622.50,235.00" fill="#9acfea" stroke="#2c2d2e" stroke-width="0.8" stroke-linejoin="round" />
<polygon points="626.25,177.00 649.60,189.60 649.60,245.50 626.25,233.75" fill="#0090d4" stroke="#2c2d2e" stroke-width="0.8" stroke-linejoin="round" />
<polyline points="646.25,213.50 646.25,218.50" fill="none" stroke="#2c2d2e" stroke-width="1" stroke-linejoin="round" stroke-linecap="round" />
<polygon points="698.25,197.70 710.33,191.23 710.33,223.23 698.25,229.70" fill="#2e3133" stroke="none" stroke-width="1" stroke-linejoin="round" />
<polygon points="710.33,191.23 722.00,184.98 722.00,216.98 710.33,223.23" fill="#9acfea" stroke="#2c2d2e" stroke-width="0.7" stroke-linejoin="round" />
<polygon points="722.00,184.98 725.70,183.00 725.70,215.00 722.00,216.98" fill="#2e3133" stroke="#2c2d2e" stroke-width="0.7" stroke-linejoin="round" />
<polygon points="698.25,229.70 725.70,215.00 725.70,218.40 698.25,233.10" fill="#fff" stroke="#2c2d2e" stroke-width="0.7" stroke-linejoin="round" />
<polyline points="698.25,210.44 710.33,203.98" fill="none" stroke="#4a4e50" stroke-width="0.8" stroke-linejoin="round" stroke-linecap="round" />
<polyline points="710.33,203.98 722.00,197.73" fill="none" stroke="#2c2d2e" stroke-width="0.8" stroke-linejoin="round" stroke-linecap="round" />
<polygon points="698.25,197.70 725.70,183.00 725.70,218.40 698.25,233.10" fill="none" stroke="#2c2d2e" stroke-width="1.0" stroke-linejoin="round" />
<polygon points="736.50,176.25 748.38,169.65 748.38,200.65 736.50,207.25" fill="#2e3133" stroke="none" stroke-width="1" stroke-linejoin="round" />
<polygon points="748.38,169.65 759.80,163.31 759.80,194.31 748.38,200.65" fill="#9acfea" stroke="#2c2d2e" stroke-width="0.7" stroke-linejoin="round" />
<polygon points="759.80,163.31 763.50,161.25 763.50,192.25 759.80,194.31" fill="#fff" stroke="#2c2d2e" stroke-width="0.7" stroke-linejoin="round" />
<polygon points="736.50,207.25 763.50,192.25 763.50,195.65 736.50,210.65" fill="#fff" stroke="#2c2d2e" stroke-width="0.7" stroke-linejoin="round" />
<polyline points="736.50,188.63 748.38,182.03" fill="none" stroke="#4a4e50" stroke-width="0.8" stroke-linejoin="round" stroke-linecap="round" />
<polyline points="748.38,182.03 759.80,175.69" fill="none" stroke="#2c2d2e" stroke-width="0.8" stroke-linejoin="round" stroke-linecap="round" />
<polygon points="736.50,176.25 763.50,161.25 763.50,195.65 736.50,210.65" fill="none" stroke="#2c2d2e" stroke-width="1.0" stroke-linejoin="round" />
<path d="M667.53,8.03 Q664.70,8.70 665.87,12.20 L677.20,37.70 Q679.53,42.53 683.53,40.70 Q685.20,39.70 685.70,37.20 L689.37,24.03 Q689.87,21.37 687.53,19.87 L671.20,9.03 Q669.37,7.70 667.53,8.03 Z" fill="#2c2d2e" stroke="#2c2d2e" stroke-width="2.2" stroke-linejoin="round" stroke-linecap="round" />
<path d="M666.00,8.92 Q663.17,9.58 664.33,13.08 L675.67,38.58 Q678.00,43.42 682.00,41.58 Q683.67,40.58 684.17,38.08 L687.83,24.92 Q688.33,22.25 686.00,20.75 L669.67,9.92 Q667.83,8.58 666.00,8.92 Z" fill="#2c2d2e" stroke="#2c2d2e" stroke-width="2.2" stroke-linejoin="round" stroke-linecap="round" />
<path d="M664.47,9.80 Q661.63,10.47 662.80,13.97 L674.13,39.47 Q676.47,44.30 680.47,42.47 Q682.13,41.47 682.63,38.97 L686.30,25.80 Q686.80,23.13 684.47,21.63 L668.13,10.80 Q666.30,9.47 664.47,9.80 Z" fill="#2c2d2e" stroke="#2c2d2e" stroke-width="2.2" stroke-linejoin="round" stroke-linecap="round" />
<path d="M662.93,10.68 Q660.10,11.35 661.27,14.85 L672.60,40.35 Q674.93,45.18 678.93,43.35 Q680.60,42.35 681.10,39.85 L684.77,26.68 Q685.27,24.02 682.93,22.52 L666.60,11.68 Q664.77,10.35 662.93,10.68 Z" fill="#2c2d2e" stroke="#2c2d2e" stroke-width="2.2" stroke-linejoin="round" stroke-linecap="round" />
<path d="M661.40,11.57 Q658.57,12.23 659.73,15.73 L671.07,41.23 Q673.40,46.07 677.40,44.23 Q679.07,43.23 679.57,40.73 L683.23,27.57 Q683.73,24.90 681.40,23.40 L665.07,12.57 Q663.23,11.23 661.40,11.57 Z" fill="#2c2d2e" stroke="#2c2d2e" stroke-width="2.2" stroke-linejoin="round" stroke-linecap="round" />
<path d="M659.87,12.45 Q657.03,13.12 658.20,16.62 L669.53,42.12 Q671.87,46.95 675.87,45.12 Q677.53,44.12 678.03,41.62 L681.70,28.45 Q682.20,25.78 679.87,24.28 L663.53,13.45 Q661.70,12.12 659.87,12.45 Z" fill="#2c2d2e" stroke="#2c2d2e" stroke-width="2.2" stroke-linejoin="round" stroke-linecap="round" />
<path d="M658.33,13.33 Q655.50,14.00 656.67,17.50 L668.00,43.00 Q670.33,47.83 674.33,46.00 Q676.00,45.00 676.50,42.50 L680.17,29.33 Q680.67,26.67 678.33,25.17 L662.00,14.33 Q660.17,13.00 658.33,13.33 Z" fill="#2c2d2e" stroke="#2c2d2e" stroke-width="2.2" stroke-linejoin="round" stroke-linecap="round" />
<path d="M667.53,8.03 Q664.70,8.70 665.87,12.20 L677.20,37.70 Q679.53,42.53 683.53,40.70 Q685.20,39.70 685.70,37.20 L689.37,24.03 Q689.87,21.37 687.53,19.87 L671.20,9.03 Q669.37,7.70 667.53,8.03 Z" fill="#e0cde6" stroke="#e0cde6" stroke-width="0.3" stroke-linejoin="round" stroke-linecap="round" />
<path d="M666.00,8.92 Q663.17,9.58 664.33,13.08 L675.67,38.58 Q678.00,43.42 682.00,41.58 Q683.67,40.58 684.17,38.08 L687.83,24.92 Q688.33,22.25 686.00,20.75 L669.67,9.92 Q667.83,8.58 666.00,8.92 Z" fill="#e0cde6" stroke="#e0cde6" stroke-width="0.3" stroke-linejoin="round" stroke-linecap="round" />
<path d="M664.47,9.80 Q661.63,10.47 662.80,13.97 L674.13,39.47 Q676.47,44.30 680.47,42.47 Q682.13,41.47 682.63,38.97 L686.30,25.80 Q686.80,23.13 684.47,21.63 L668.13,10.80 Q666.30,9.47 664.47,9.80 Z" fill="#e0cde6" stroke="#e0cde6" stroke-width="0.3" stroke-linejoin="round" stroke-linecap="round" />
<path d="M662.93,10.68 Q660.10,11.35 661.27,14.85 L672.60,40.35 Q674.93,45.18 678.93,43.35 Q680.60,42.35 681.10,39.85 L684.77,26.68 Q685.27,24.02 682.93,22.52 L666.60,11.68 Q664.77,10.35 662.93,10.68 Z" fill="#e0cde6" stroke="#e0cde6" stroke-width="0.3" stroke-linejoin="round" stroke-linecap="round" />
<path d="M661.40,11.57 Q658.57,12.23 659.73,15.73 L671.07,41.23 Q673.40,46.07 677.40,44.23 Q679.07,43.23 679.57,40.73 L683.23,27.57 Q683.73,24.90 681.40,23.40 L665.07,12.57 Q663.23,11.23 661.40,11.57 Z" fill="#e0cde6" stroke="#e0cde6" stroke-width="0.3" stroke-linejoin="round" stroke-linecap="round" />
<path d="M659.87,12.45 Q657.03,13.12 658.20,16.62 L669.53,42.12 Q671.87,46.95 675.87,45.12 Q677.53,44.12 678.03,41.62 L681.70,28.45 Q682.20,25.78 679.87,24.28 L663.53,13.45 Q661.70,12.12 659.87,12.45 Z" fill="#e0cde6" stroke="#e0cde6" stroke-width="0.3" stroke-linejoin="round" stroke-linecap="round" />
<path d="M658.33,13.33 Q655.50,14.00 656.67,17.50 L668.00,43.00 Q670.33,47.83 674.33,46.00 Q676.00,45.00 676.50,42.50 L680.17,29.33 Q680.67,26.67 678.33,25.17 L662.00,14.33 Q660.17,13.00 658.33,13.33 Z" fill="#fff" stroke="#2c2d2e" stroke-width="1.1" stroke-linejoin="round" stroke-linecap="round" />
<ellipse cx="668.3" cy="30.9" rx="2.9" ry="4.1" transform="rotate(-22 668.3 30.9)" fill="#2c2d2e"/>
<rect x="669.2" y="46.5" width="6.6" height="28" fill="#fff" stroke="#2c2d2e" stroke-width="1"/>
<polyline points="669.20,49.20 675.80,50.40" fill="none" stroke="#2c2d2e" stroke-width="1.4" stroke-linejoin="round" stroke-linecap="round" />
<polyline points="669.20,52.50 675.80,53.70" fill="none" stroke="#2c2d2e" stroke-width="1.4" stroke-linejoin="round" stroke-linecap="round" />
<polyline points="669.20,55.80 675.80,57.00" fill="none" stroke="#2c2d2e" stroke-width="1.4" stroke-linejoin="round" stroke-linecap="round" />
<polyline points="669.20,59.10 675.80,60.30" fill="none" stroke="#2c2d2e" stroke-width="1.4" stroke-linejoin="round" stroke-linecap="round" />
<polyline points="669.20,62.40 675.80,63.60" fill="none" stroke="#2c2d2e" stroke-width="1.4" stroke-linejoin="round" stroke-linecap="round" />
<polyline points="669.20,65.70 675.80,66.90" fill="none" stroke="#2c2d2e" stroke-width="1.4" stroke-linejoin="round" stroke-linecap="round" />
<polyline points="669.20,69.00 675.80,70.20" fill="none" stroke="#2c2d2e" stroke-width="1.4" stroke-linejoin="round" stroke-linecap="round" />
<polyline points="669.20,72.30 675.80,73.50" fill="none" stroke="#2c2d2e" stroke-width="1.4" stroke-linejoin="round" stroke-linecap="round" />
<polyline points="683.00,80.80 689.60,84.60 679.20,103.60" fill="none" stroke="#2c2d2e" stroke-width="3.4" stroke-linejoin="round" stroke-linecap="round" />
<polyline points="683.00,80.80 689.60,84.60 679.20,103.60" fill="none" stroke="#fff" stroke-width="1.5" stroke-linejoin="round" stroke-linecap="round" />
<polyline points="657.00,104.60 677.00,115.60 677.00,118.20" fill="none" stroke="#2c2d2e" stroke-width="3.4" stroke-linejoin="round" stroke-linecap="round" />
<polyline points="657.00,104.60 677.00,115.60 677.00,118.20" fill="none" stroke="#fff" stroke-width="1.5" stroke-linejoin="round" stroke-linecap="round" />
<polyline points="668.20,82.80 656.60,107.20" fill="none" stroke="#2c2d2e" stroke-width="3.4" stroke-linejoin="round" stroke-linecap="round" />
<polyline points="668.20,82.80 656.60,107.20" fill="none" stroke="#fff" stroke-width="1.5" stroke-linejoin="round" stroke-linecap="round" />
<polygon points="655.00,105.60 658.00,107.20 658.00,110.60 655.00,109.00" fill="#2c2d2e" stroke="none" stroke-width="1" stroke-linejoin="round" />
<path d="M666.3,82.5 C663.5,79 665.5,74.5 670,73.5 L675,73.2 C680,73.5 682.5,77 682,81 C681.5,85 677.5,86.5 674.5,85 L671.8,83.4 C670.5,84.8 667.8,84.5 666.3,82.5 Z" fill="#fff" stroke="#2c2d2e" stroke-width="1.1" stroke-linejoin="round" stroke-linecap="round" />
<ellipse cx="676.6" cy="79.6" rx="3.9" ry="5" transform="rotate(28 676.6 79.6)" fill="#fff" stroke="#2c2d2e" stroke-width="1.1"/>
<ellipse cx="676.8" cy="79.8" rx="1.3" ry="1.9" transform="rotate(28 676.8 79.8)" fill="#2c2d2e"/>
<polyline points="598.40,238.00 598.40,252.50" fill="none" stroke="#2c2d2e" stroke-width="1" stroke-linejoin="round" stroke-linecap="round" />
<polyline points="605.60,234.00 605.60,247.50 610.00,248.20" fill="none" stroke="#2c2d2e" stroke-width="1" stroke-linejoin="round" stroke-linecap="round" />
<polyline points="610.30,231.00 610.30,238.00" fill="none" stroke="#2c2d2e" stroke-width="1" stroke-linejoin="round" stroke-linecap="round" />
<ellipse cx="598.4" cy="253.8" rx="1.6" ry="2.1" fill="#2c2d2e" transform="rotate(25 598.4 253.8)"/>
<ellipse cx="610.8" cy="248.4" rx="1.6" ry="2.1" fill="#2c2d2e" transform="rotate(25 610.8 248.4)"/>
<ellipse cx="610.3" cy="238.6" rx="1.6" ry="2.1" fill="#2c2d2e" transform="rotate(25 610.3 238.6)"/>
<path d="M583.42,240.37 C578.75,241.54 575.25,238.04 576.42,233.37 C577.00,226.37 582.25,220.54 588.67,217.27 C588.08,210.03 593.92,200.70 600.92,199.53 C605.59,198.95 609.67,203.03 609.67,208.87 C613.75,207.12 616.67,211.20 616.09,215.87 C615.74,220.54 612.59,225.20 609.09,227.54 Z" fill="#2c2d2e" stroke="#2c2d2e" stroke-width="2.2" stroke-linejoin="round" stroke-linecap="round" />
<path d="M584.47,241.03 C579.80,242.20 576.30,238.70 577.47,234.03 C578.05,227.03 583.30,221.20 589.72,217.93 C589.13,210.69 594.97,201.36 601.97,200.19 C606.64,199.61 610.72,203.69 610.72,209.53 C614.80,207.78 617.72,211.86 617.14,216.53 C616.79,221.20 613.64,225.86 610.14,228.20 Z" fill="#2c2d2e" stroke="#2c2d2e" stroke-width="2.2" stroke-linejoin="round" stroke-linecap="round" />
<path d="M585.52,241.69 C580.85,242.86 577.35,239.36 578.52,234.69 C579.10,227.69 584.35,221.86 590.77,218.59 C590.18,211.35 596.02,202.02 603.02,200.85 C607.69,200.27 611.77,204.35 611.77,210.19 C615.85,208.44 618.77,212.52 618.19,217.19 C617.84,221.86 614.69,226.52 611.19,228.86 Z" fill="#2c2d2e" stroke="#2c2d2e" stroke-width="2.2" stroke-linejoin="round" stroke-linecap="round" />
<path d="M586.57,242.35 C581.90,243.52 578.40,240.02 579.57,235.35 C580.15,228.35 585.40,222.52 591.82,219.25 C591.23,212.01 597.07,202.68 604.07,201.51 C608.74,200.93 612.82,205.01 612.82,210.85 C616.90,209.10 619.82,213.18 619.24,217.85 C618.89,222.52 615.74,227.18 612.24,229.52 Z" fill="#2c2d2e" stroke="#2c2d2e" stroke-width="2.2" stroke-linejoin="round" stroke-linecap="round" />
<path d="M587.62,243.01 C582.95,244.18 579.45,240.68 580.62,236.01 C581.20,229.01 586.45,223.18 592.87,219.91 C592.28,212.67 598.12,203.34 605.12,202.17 C609.79,201.59 613.87,205.67 613.87,211.51 C617.95,209.76 620.87,213.84 620.29,218.51 C619.94,223.18 616.79,227.84 613.29,230.18 Z" fill="#2c2d2e" stroke="#2c2d2e" stroke-width="2.2" stroke-linejoin="round" stroke-linecap="round" />
<path d="M588.67,243.67 C584.00,244.84 580.50,241.34 581.67,236.67 C582.25,229.67 587.50,223.84 593.92,220.57 C593.33,213.33 599.17,204.00 606.17,202.83 C610.84,202.25 614.92,206.33 614.92,212.17 C619.00,210.42 621.92,214.50 621.34,219.17 C620.99,223.84 617.84,228.50 614.34,230.84 Z" fill="#2c2d2e" stroke="#2c2d2e" stroke-width="2.2" stroke-linejoin="round" stroke-linecap="round" />
<path d="M583.42,240.37 C578.75,241.54 575.25,238.04 576.42,233.37 C577.00,226.37 582.25,220.54 588.67,217.27 C588.08,210.03 593.92,200.70 600.92,199.53 C605.59,198.95 609.67,203.03 609.67,208.87 C613.75,207.12 616.67,211.20 616.09,215.87 C615.74,220.54 612.59,225.20 609.09,227.54 Z" fill="#c39bd3" stroke="#c39bd3" stroke-width="0.3" stroke-linejoin="round" stroke-linecap="round" />
<path d="M584.47,241.03 C579.80,242.20 576.30,238.70 577.47,234.03 C578.05,227.03 583.30,221.20 589.72,217.93 C589.13,210.69 594.97,201.36 601.97,200.19 C606.64,199.61 610.72,203.69 610.72,209.53 C614.80,207.78 617.72,211.86 617.14,216.53 C616.79,221.20 613.64,225.86 610.14,228.20 Z" fill="#c39bd3" stroke="#c39bd3" stroke-width="0.3" stroke-linejoin="round" stroke-linecap="round" />
<path d="M585.52,241.69 C580.85,242.86 577.35,239.36 578.52,234.69 C579.10,227.69 584.35,221.86 590.77,218.59 C590.18,211.35 596.02,202.02 603.02,200.85 C607.69,200.27 611.77,204.35 611.77,210.19 C615.85,208.44 618.77,212.52 618.19,217.19 C617.84,221.86 614.69,226.52 611.19,228.86 Z" fill="#c39bd3" stroke="#c39bd3" stroke-width="0.3" stroke-linejoin="round" stroke-linecap="round" />
<path d="M586.57,242.35 C581.90,243.52 578.40,240.02 579.57,235.35 C580.15,228.35 585.40,222.52 591.82,219.25 C591.23,212.01 597.07,202.68 604.07,201.51 C608.74,200.93 612.82,205.01 612.82,210.85 C616.90,209.10 619.82,213.18 619.24,217.85 C618.89,222.52 615.74,227.18 612.24,229.52 Z" fill="#c39bd3" stroke="#c39bd3" stroke-width="0.3" stroke-linejoin="round" stroke-linecap="round" />
<path d="M587.62,243.01 C582.95,244.18 579.45,240.68 580.62,236.01 C581.20,229.01 586.45,223.18 592.87,219.91 C592.28,212.67 598.12,203.34 605.12,202.17 C609.79,201.59 613.87,205.67 613.87,211.51 C617.95,209.76 620.87,213.84 620.29,218.51 C619.94,223.18 616.79,227.84 613.29,230.18 Z" fill="#c39bd3" stroke="#c39bd3" stroke-width="0.3" stroke-linejoin="round" stroke-linecap="round" />
<path d="M588.67,243.67 C584.00,244.84 580.50,241.34 581.67,236.67 C582.25,229.67 587.50,223.84 593.92,220.57 C593.33,213.33 599.17,204.00 606.17,202.83 C610.84,202.25 614.92,206.33 614.92,212.17 C619.00,210.42 621.92,214.50 621.34,219.17 C620.99,223.84 617.84,228.50 614.34,230.84 Z" fill="#fff" stroke="#2c2d2e" stroke-width="1.1" stroke-linejoin="round" stroke-linecap="round" />
<path d="M433,386 L422,392.5 C412,398.5 411,404 419,409 L440,422.5" fill="#fff" stroke="#2c2d2e" stroke-width="1.3" stroke-linejoin="round" stroke-linecap="round" />
<path d="M439.7,436.2 L439.7,445.5 A21.3,12.0 0 0 0 482.3,445.5 L482.3,436.2 Z" fill="#fff" stroke="#2c2d2e" stroke-width="1.0" stroke-linejoin="round" stroke-linecap="round" />
<path d="M439.7,430.2 L439.7,437.2 A21.3,12.0 0 0 0 482.3,437.2 L482.3,430.2 Z" fill="#c39bd3" stroke="#2c2d2e" stroke-width="1.0" stroke-linejoin="round" stroke-linecap="round" />
<path d="M439.7,419.3 L439.7,431.2 A21.3,12.0 0 0 0 482.3,431.2 L482.3,419.3 Z" fill="#fff" stroke="#2c2d2e" stroke-width="1.0" stroke-linejoin="round" stroke-linecap="round" />
<path d="M439.7,413.8 L439.7,420.3 A21.3,12.0 0 0 0 482.3,420.3 L482.3,413.8 Z" fill="#c39bd3" stroke="#2c2d2e" stroke-width="1.0" stroke-linejoin="round" stroke-linecap="round" />
<path d="M439.7,398.8 L439.7,414.8 A21.3,12.0 0 0 0 482.3,414.8 L482.3,398.8 Z" fill="#fff" stroke="#2c2d2e" stroke-width="1.0" stroke-linejoin="round" stroke-linecap="round" />
<ellipse cx="461.0" cy="399.8" rx="21.3" ry="12.0" fill="#e0cde6" stroke="#2c2d2e" stroke-width="1.1"/>
<polygon points="463.35,414.65 466.15,414.05 466.15,417.75 463.35,418.35" fill="#d3b5de" stroke="#2c2d2e" stroke-width="1.1" stroke-linejoin="round" />
<polygon points="469.35,413.40 472.15,412.80 472.15,416.50 469.35,417.10" fill="#d3b5de" stroke="#2c2d2e" stroke-width="1.1" stroke-linejoin="round" />
<polygon points="475.00,410.70 477.80,410.10 477.80,413.80 475.00,414.40" fill="#d3b5de" stroke="#2c2d2e" stroke-width="1.1" stroke-linejoin="round" />
<polygon points="463.35,431.85 466.15,431.25 466.15,434.95 463.35,435.55" fill="#d3b5de" stroke="#2c2d2e" stroke-width="1.1" stroke-linejoin="round" />
<polygon points="469.35,430.60 472.15,430.00 472.15,433.70 469.35,434.30" fill="#d3b5de" stroke="#2c2d2e" stroke-width="1.1" stroke-linejoin="round" />
<polygon points="475.00,427.90 477.80,427.30 477.80,431.00 475.00,431.60" fill="#d3b5de" stroke="#2c2d2e" stroke-width="1.1" stroke-linejoin="round" />
<polygon points="463.35,449.05 466.15,448.45 466.15,452.15 463.35,452.75" fill="#d3b5de" stroke="#2c2d2e" stroke-width="1.1" stroke-linejoin="round" />
<polygon points="469.35,447.80 472.15,447.20 472.15,450.90 469.35,451.50" fill="#d3b5de" stroke="#2c2d2e" stroke-width="1.1" stroke-linejoin="round" />
<polygon points="475.00,445.10 477.80,444.50 477.80,448.20 475.00,448.80" fill="#d3b5de" stroke="#2c2d2e" stroke-width="1.1" stroke-linejoin="round" />
<polygon points="570.00,321.25 638.75,361.25 638.75,450.25 570.00,410.25" fill="#f6f6f6" stroke="#b0b0b0" stroke-width="2.6" stroke-linejoin="round" />
<polygon points="638.75,361.25 717.50,316.25 717.50,405.25 638.75,450.25" fill="#dedede" stroke="#b0b0b0" stroke-width="2.6" stroke-linejoin="round" />
<polygon points="570.00,321.25 648.75,276.25 717.50,316.25 638.75,361.25" fill="#ededed" stroke="#b0b0b0" stroke-width="2.6" stroke-linejoin="round" />
<g fill="#2c2d2e" stroke="#2c2d2e" stroke-width="4.0" stroke-linejoin="round">
<polygon points="661.38,295.39 662.21,292.66 662.78,289.97 663.06,287.38 663.05,284.93 662.75,282.67 662.17,280.65 661.32,278.90 660.21,277.45 658.87,276.32 657.32,275.55 655.58,275.14 653.70,275.11 651.70,275.44 649.62,276.14 647.50,277.20 645.38,278.59 643.30,280.29 641.30,282.26 639.42,284.47 637.68,286.89 636.13,289.45 634.79,292.13 633.68,294.86 632.83,297.59 632.25,300.29 631.95,302.88 631.94,305.34 632.22,307.61 632.79,309.64 633.62,311.41 647.50,334.70" transform="translate(-12.75 -7.50)"/>
<polygon points="661.38,295.39 662.21,292.66 662.78,289.97 663.06,287.38 663.05,284.93 662.75,282.67 662.17,280.65 661.32,278.90 660.21,277.45 658.87,276.32 657.32,275.55 655.58,275.14 653.70,275.11 651.70,275.44 649.62,276.14 647.50,277.20 645.38,278.59 643.30,280.29 641.30,282.26 639.42,284.47 637.68,286.89 636.13,289.45 634.79,292.13 633.68,294.86 632.83,297.59 632.25,300.29 631.95,302.88 631.94,305.34 632.22,307.61 632.79,309.64 633.62,311.41 647.50,334.70" transform="translate(-11.47 -6.75)"/>
<polygon points="661.38,295.39 662.21,292.66 662.78,289.97 663.06,287.38 663.05,284.93 662.75,282.67 662.17,280.65 661.32,278.90 660.21,277.45 658.87,276.32 657.32,275.55 655.58,275.14 653.70,275.11 651.70,275.44 649.62,276.14 647.50,277.20 645.38,278.59 643.30,280.29 641.30,282.26 639.42,284.47 637.68,286.89 636.13,289.45 634.79,292.13 633.68,294.86 632.83,297.59 632.25,300.29 631.95,302.88 631.94,305.34 632.22,307.61 632.79,309.64 633.62,311.41 647.50,334.70" transform="translate(-10.20 -6.00)"/>
<polygon points="661.38,295.39 662.21,292.66 662.78,289.97 663.06,287.38 663.05,284.93 662.75,282.67 662.17,280.65 661.32,278.90 660.21,277.45 658.87,276.32 657.32,275.55 655.58,275.14 653.70,275.11 651.70,275.44 649.62,276.14 647.50,277.20 645.38,278.59 643.30,280.29 641.30,282.26 639.42,284.47 637.68,286.89 636.13,289.45 634.79,292.13 633.68,294.86 632.83,297.59 632.25,300.29 631.95,302.88 631.94,305.34 632.22,307.61 632.79,309.64 633.62,311.41 647.50,334.70" transform="translate(-8.93 -5.25)"/>
<polygon points="661.38,295.39 662.21,292.66 662.78,289.97 663.06,287.38 663.05,284.93 662.75,282.67 662.17,280.65 661.32,278.90 660.21,277.45 658.87,276.32 657.32,275.55 655.58,275.14 653.70,275.11 651.70,275.44 649.62,276.14 647.50,277.20 645.38,278.59 643.30,280.29 641.30,282.26 639.42,284.47 637.68,286.89 636.13,289.45 634.79,292.13 633.68,294.86 632.83,297.59 632.25,300.29 631.95,302.88 631.94,305.34 632.22,307.61 632.79,309.64 633.62,311.41 647.50,334.70" transform="translate(-7.65 -4.50)"/>
<polygon points="661.38,295.39 662.21,292.66 662.78,289.97 663.06,287.38 663.05,284.93 662.75,282.67 662.17,280.65 661.32,278.90 660.21,277.45 658.87,276.32 657.32,275.55 655.58,275.14 653.70,275.11 651.70,275.44 649.62,276.14 647.50,277.20 645.38,278.59 643.30,280.29 641.30,282.26 639.42,284.47 637.68,286.89 636.13,289.45 634.79,292.13 633.68,294.86 632.83,297.59 632.25,300.29 631.95,302.88 631.94,305.34 632.22,307.61 632.79,309.64 633.62,311.41 647.50,334.70" transform="translate(-6.38 -3.75)"/>
<polygon points="661.38,295.39 662.21,292.66 662.78,289.97 663.06,287.38 663.05,284.93 662.75,282.67 662.17,280.65 661.32,278.90 660.21,277.45 658.87,276.32 657.32,275.55 655.58,275.14 653.70,275.11 651.70,275.44 649.62,276.14 647.50,277.20 645.38,278.59 643.30,280.29 641.30,282.26 639.42,284.47 637.68,286.89 636.13,289.45 634.79,292.13 633.68,294.86 632.83,297.59 632.25,300.29 631.95,302.88 631.94,305.34 632.22,307.61 632.79,309.64 633.62,311.41 647.50,334.70" transform="translate(-5.10 -3.00)"/>
<polygon points="661.38,295.39 662.21,292.66 662.78,289.97 663.06,287.38 663.05,284.93 662.75,282.67 662.17,280.65 661.32,278.90 660.21,277.45 658.87,276.32 657.32,275.55 655.58,275.14 653.70,275.11 651.70,275.44 649.62,276.14 647.50,277.20 645.38,278.59 643.30,280.29 641.30,282.26 639.42,284.47 637.68,286.89 636.13,289.45 634.79,292.13 633.68,294.86 632.83,297.59 632.25,300.29 631.95,302.88 631.94,305.34 632.22,307.61 632.79,309.64 633.62,311.41 647.50,334.70" transform="translate(-3.83 -2.25)"/>
<polygon points="661.38,295.39 662.21,292.66 662.78,289.97 663.06,287.38 663.05,284.93 662.75,282.67 662.17,280.65 661.32,278.90 660.21,277.45 658.87,276.32 657.32,275.55 655.58,275.14 653.70,275.11 651.70,275.44 649.62,276.14 647.50,277.20 645.38,278.59 643.30,280.29 641.30,282.26 639.42,284.47 637.68,286.89 636.13,289.45 634.79,292.13 633.68,294.86 632.83,297.59 632.25,300.29 631.95,302.88 631.94,305.34 632.22,307.61 632.79,309.64 633.62,311.41 647.50,334.70" transform="translate(-2.55 -1.50)"/>
<polygon points="661.38,295.39 662.21,292.66 662.78,289.97 663.06,287.38 663.05,284.93 662.75,282.67 662.17,280.65 661.32,278.90 660.21,277.45 658.87,276.32 657.32,275.55 655.58,275.14 653.70,275.11 651.70,275.44 649.62,276.14 647.50,277.20 645.38,278.59 643.30,280.29 641.30,282.26 639.42,284.47 637.68,286.89 636.13,289.45 634.79,292.13 633.68,294.86 632.83,297.59 632.25,300.29 631.95,302.88 631.94,305.34 632.22,307.61 632.79,309.64 633.62,311.41 647.50,334.70" transform="translate(-1.27 -0.75)"/>
<polygon points="661.38,295.39 662.21,292.66 662.78,289.97 663.06,287.38 663.05,284.93 662.75,282.67 662.17,280.65 661.32,278.90 660.21,277.45 658.87,276.32 657.32,275.55 655.58,275.14 653.70,275.11 651.70,275.44 649.62,276.14 647.50,277.20 645.38,278.59 643.30,280.29 641.30,282.26 639.42,284.47 637.68,286.89 636.13,289.45 634.79,292.13 633.68,294.86 632.83,297.59 632.25,300.29 631.95,302.88 631.94,305.34 632.22,307.61 632.79,309.64 633.62,311.41 647.50,334.70" transform="translate(-0.00 -0.00)"/>
</g><g fill="#c39bd3" stroke="#c39bd3" stroke-width="0.3">
<polygon points="661.38,295.39 662.21,292.66 662.78,289.97 663.06,287.38 663.05,284.93 662.75,282.67 662.17,280.65 661.32,278.90 660.21,277.45 658.87,276.32 657.32,275.55 655.58,275.14 653.70,275.11 651.70,275.44 649.62,276.14 647.50,277.20 645.38,278.59 643.30,280.29 641.30,282.26 639.42,284.47 637.68,286.89 636.13,289.45 634.79,292.13 633.68,294.86 632.83,297.59 632.25,300.29 631.95,302.88 631.94,305.34 632.22,307.61 632.79,309.64 633.62,311.41 647.50,334.70" transform="translate(-12.75 -7.50)"/>
<polygon points="661.38,295.39 662.21,292.66 662.78,289.97 663.06,287.38 663.05,284.93 662.75,282.67 662.17,280.65 661.32,278.90 660.21,277.45 658.87,276.32 657.32,275.55 655.58,275.14 653.70,275.11 651.70,275.44 649.62,276.14 647.50,277.20 645.38,278.59 643.30,280.29 641.30,282.26 639.42,284.47 637.68,286.89 636.13,289.45 634.79,292.13 633.68,294.86 632.83,297.59 632.25,300.29 631.95,302.88 631.94,305.34 632.22,307.61 632.79,309.64 633.62,311.41 647.50,334.70" transform="translate(-11.47 -6.75)"/>
<polygon points="661.38,295.39 662.21,292.66 662.78,289.97 663.06,287.38 663.05,284.93 662.75,282.67 662.17,280.65 661.32,278.90 660.21,277.45 658.87,276.32 657.32,275.55 655.58,275.14 653.70,275.11 651.70,275.44 649.62,276.14 647.50,277.20 645.38,278.59 643.30,280.29 641.30,282.26 639.42,284.47 637.68,286.89 636.13,289.45 634.79,292.13 633.68,294.86 632.83,297.59 632.25,300.29 631.95,302.88 631.94,305.34 632.22,307.61 632.79,309.64 633.62,311.41 647.50,334.70" transform="translate(-10.20 -6.00)"/>
<polygon points="661.38,295.39 662.21,292.66 662.78,289.97 663.06,287.38 663.05,284.93 662.75,282.67 662.17,280.65 661.32,278.90 660.21,277.45 658.87,276.32 657.32,275.55 655.58,275.14 653.70,275.11 651.70,275.44 649.62,276.14 647.50,277.20 645.38,278.59 643.30,280.29 641.30,282.26 639.42,284.47 637.68,286.89 636.13,289.45 634.79,292.13 633.68,294.86 632.83,297.59 632.25,300.29 631.95,302.88 631.94,305.34 632.22,307.61 632.79,309.64 633.62,311.41 647.50,334.70" transform="translate(-8.93 -5.25)"/>
<polygon points="661.38,295.39 662.21,292.66 662.78,289.97 663.06,287.38 663.05,284.93 662.75,282.67 662.17,280.65 661.32,278.90 660.21,277.45 658.87,276.32 657.32,275.55 655.58,275.14 653.70,275.11 651.70,275.44 649.62,276.14 647.50,277.20 645.38,278.59 643.30,280.29 641.30,282.26 639.42,284.47 637.68,286.89 636.13,289.45 634.79,292.13 633.68,294.86 632.83,297.59 632.25,300.29 631.95,302.88 631.94,305.34 632.22,307.61 632.79,309.64 633.62,311.41 647.50,334.70" transform="translate(-7.65 -4.50)"/>
<polygon points="661.38,295.39 662.21,292.66 662.78,289.97 663.06,287.38 663.05,284.93 662.75,282.67 662.17,280.65 661.32,278.90 660.21,277.45 658.87,276.32 657.32,275.55 655.58,275.14 653.70,275.11 651.70,275.44 649.62,276.14 647.50,277.20 645.38,278.59 643.30,280.29 641.30,282.26 639.42,284.47 637.68,286.89 636.13,289.45 634.79,292.13 633.68,294.86 632.83,297.59 632.25,300.29 631.95,302.88 631.94,305.34 632.22,307.61 632.79,309.64 633.62,311.41 647.50,334.70" transform="translate(-6.38 -3.75)"/>
<polygon points="661.38,295.39 662.21,292.66 662.78,289.97 663.06,287.38 663.05,284.93 662.75,282.67 662.17,280.65 661.32,278.90 660.21,277.45 658.87,276.32 657.32,275.55 655.58,275.14 653.70,275.11 651.70,275.44 649.62,276.14 647.50,277.20 645.38,278.59 643.30,280.29 641.30,282.26 639.42,284.47 637.68,286.89 636.13,289.45 634.79,292.13 633.68,294.86 632.83,297.59 632.25,300.29 631.95,302.88 631.94,305.34 632.22,307.61 632.79,309.64 633.62,311.41 647.50,334.70" transform="translate(-5.10 -3.00)"/>
<polygon points="661.38,295.39 662.21,292.66 662.78,289.97 663.06,287.38 663.05,284.93 662.75,282.67 662.17,280.65 661.32,278.90 660.21,277.45 658.87,276.32 657.32,275.55 655.58,275.14 653.70,275.11 651.70,275.44 649.62,276.14 647.50,277.20 645.38,278.59 643.30,280.29 641.30,282.26 639.42,284.47 637.68,286.89 636.13,289.45 634.79,292.13 633.68,294.86 632.83,297.59 632.25,300.29 631.95,302.88 631.94,305.34 632.22,307.61 632.79,309.64 633.62,311.41 647.50,334.70" transform="translate(-3.83 -2.25)"/>
<polygon points="661.38,295.39 662.21,292.66 662.78,289.97 663.06,287.38 663.05,284.93 662.75,282.67 662.17,280.65 661.32,278.90 660.21,277.45 658.87,276.32 657.32,275.55 655.58,275.14 653.70,275.11 651.70,275.44 649.62,276.14 647.50,277.20 645.38,278.59 643.30,280.29 641.30,282.26 639.42,284.47 637.68,286.89 636.13,289.45 634.79,292.13 633.68,294.86 632.83,297.59 632.25,300.29 631.95,302.88 631.94,305.34 632.22,307.61 632.79,309.64 633.62,311.41 647.50,334.70" transform="translate(-2.55 -1.50)"/>
<polygon points="661.38,295.39 662.21,292.66 662.78,289.97 663.06,287.38 663.05,284.93 662.75,282.67 662.17,280.65 661.32,278.90 660.21,277.45 658.87,276.32 657.32,275.55 655.58,275.14 653.70,275.11 651.70,275.44 649.62,276.14 647.50,277.20 645.38,278.59 643.30,280.29 641.30,282.26 639.42,284.47 637.68,286.89 636.13,289.45 634.79,292.13 633.68,294.86 632.83,297.59 632.25,300.29 631.95,302.88 631.94,305.34 632.22,307.61 632.79,309.64 633.62,311.41 647.50,334.70" transform="translate(-1.27 -0.75)"/>
</g>
<polygon points="661.38,295.39 662.21,292.66 662.78,289.97 663.06,287.38 663.05,284.93 662.75,282.67 662.17,280.65 661.32,278.90 660.21,277.45 658.87,276.32 657.32,275.55 655.58,275.14 653.70,275.11 651.70,275.44 649.62,276.14 647.50,277.20 645.38,278.59 643.30,280.29 641.30,282.26 639.42,284.47 637.68,286.89 636.13,289.45 634.79,292.13 633.68,294.86 632.83,297.59 632.25,300.29 631.95,302.88 631.94,305.34 632.22,307.61 632.79,309.64 633.62,311.41 647.50,334.70" fill="#fff" stroke="#2c2d2e" stroke-width="2.0" stroke-linejoin="round" />
<polygon points="653.39,291.80 653.19,290.16 652.60,288.86 651.66,287.99 650.44,287.61 649.02,287.75 647.50,288.40 645.98,289.51 644.56,291.01 643.34,292.80 642.40,294.74 641.81,296.72 641.61,298.60 641.81,300.24 642.40,301.54 643.34,302.41 644.56,302.79 645.98,302.65 647.50,302.00 649.02,300.89 650.44,299.39 651.66,297.60 652.60,295.66 653.19,293.68" fill="#c39bd3" stroke="#2c2d2e" stroke-width="2.1" stroke-linejoin="round" />
<polygon points="488.25,441.25 555.75,482.25 555.75,572.25 488.25,531.25" fill="#f6f6f6" stroke="#b0b0b0" stroke-width="2.6" stroke-linejoin="round" />
<polygon points="555.75,482.25 635.00,438.00 635.00,528.00 555.75,572.25" fill="#dedede" stroke="#b0b0b0" stroke-width="2.6" stroke-linejoin="round" />
<polygon points="488.25,441.25 567.50,397.00 635.00,438.00 555.75,482.25" fill="#ededed" stroke="#b0b0b0" stroke-width="2.6" stroke-linejoin="round" />
<path d="M136.7,382.9 L176.8,360.2 C181,358.5 185.5,361.5 185.3,366.5 C185.2,370.5 183.5,372.8 181.3,373.6 L143.4,395.2 Z" fill="#fff" stroke="#2c2d2e" stroke-width="1" stroke-linejoin="round" stroke-linecap="round" />
<ellipse cx="140" cy="389" rx="4.4" ry="6.9" transform="rotate(-28 140 389)" fill="#c39bd3" stroke="#2c2d2e" stroke-width="1"/>
<ellipse cx="139.4" cy="389.4" rx="2.2" ry="3.6" transform="rotate(-28 139.4 389.4)" fill="#b184c4" stroke="#2c2d2e" stroke-width="0.8"/>
<polyline points="100.50,411.40 49.50,439.50" fill="none" stroke="#2c2d2e" stroke-width="4.0" stroke-linejoin="round" stroke-linecap="round" />
<polyline points="100.50,411.40 49.50,439.50" fill="none" stroke="#fff" stroke-width="1.7999999999999998" stroke-linejoin="round" stroke-linecap="round" />
<polyline points="100.50,411.40 130.00,427.00" fill="none" stroke="#2c2d2e" stroke-width="4.0" stroke-linejoin="round" stroke-linecap="round" />
<polyline points="100.50,411.40 130.00,427.00" fill="none" stroke="#fff" stroke-width="1.7999999999999998" stroke-linejoin="round" stroke-linecap="round" />
<polyline points="100.50,411.40 139.00,389.50" fill="none" stroke="#2c2d2e" stroke-width="4.0" stroke-linejoin="round" stroke-linecap="round" />
<polyline points="100.50,411.40 139.00,389.50" fill="none" stroke="#fff" stroke-width="1.7999999999999998" stroke-linejoin="round" stroke-linecap="round" />
<polygon points="43.35,344.17 58.52,336.23 97.05,357.71 70.20,373.59" fill="#fff" stroke="#2c2d2e" stroke-width="1.2" stroke-linejoin="round" />
<polygon points="43.35,344.17 80.71,365.65 80.71,386.66 44.52,366.11" fill="#fff" stroke="#2c2d2e" stroke-width="1.2" stroke-linejoin="round" />
<polygon points="56.89,348.37 60.16,346.27 63.43,348.37 60.16,350.47" fill="#fff" stroke="#2c2d2e" stroke-width="1.0" stroke-linejoin="round" />
<polygon points="48.72,353.04 51.99,350.94 55.26,353.04 51.99,355.14" fill="#fff" stroke="#2c2d2e" stroke-width="1.0" stroke-linejoin="round" />
<polygon points="65.06,353.04 68.33,350.94 71.60,353.04 68.33,355.14" fill="#fff" stroke="#2c2d2e" stroke-width="1.0" stroke-linejoin="round" />
<polygon points="56.89,357.94 60.16,355.84 63.43,357.94 60.16,360.04" fill="#fff" stroke="#2c2d2e" stroke-width="1.0" stroke-linejoin="round" />
<polygon points="65.06,362.61 68.33,360.51 71.60,362.61 68.33,364.71" fill="#fff" stroke="#2c2d2e" stroke-width="1.0" stroke-linejoin="round" />
<polygon points="72.77,357.71 76.04,355.61 79.30,357.71 76.04,359.81" fill="#fff" stroke="#2c2d2e" stroke-width="1.0" stroke-linejoin="round" />
<polygon points="61.56,300.51 111.06,327.36 111.06,357.71 58.52,336.00" fill="#e0cde6" stroke="#2c2d2e" stroke-width="1.2" stroke-linejoin="round" />
<polygon points="66.70,332.03 74.87,325.49 82.57,334.36 98.22,331.56 97.52,342.77 89.58,346.04" fill="#33363a" stroke="none" stroke-width="1" stroke-linejoin="round" />
<path d="M69.50,354.91 L81.17,347.44 L83.51,351.64 L119.93,331.56 L119.93,367.05 L78.37,405.57 C72.53,404.87 69.03,403.24 69.03,397.87 Z" fill="#c39bd3" stroke="#2c2d2e" stroke-width="1.2" stroke-linejoin="round" stroke-linecap="round" />
<polygon points="78.37,365.88 129.27,336.70 129.27,376.39 78.37,404.41" fill="#e0cde6" stroke="#2c2d2e" stroke-width="1.2" stroke-linejoin="round" />
<polyline points="100.55,392.73 100.55,407.91" fill="none" stroke="#2c2d2e" stroke-width="3.4" stroke-linejoin="round" stroke-linecap="round" />
<polyline points="100.55,392.73 100.55,407.91" fill="none" stroke="#fff" stroke-width="1.1999999999999997" stroke-linejoin="round" stroke-linecap="round" />
<circle cx="100.5" cy="411.6" r="6.9" fill="#e6eaed" stroke="#2c2d2e" stroke-width="1"/>
<path d="M30.51,384.56 L32.14,412.58 L31.67,416.08 L36.81,417.95 L37.74,414.91 L34.94,412.58 L36.34,385.73 Z" fill="#fff" stroke="#2c2d2e" stroke-width="0.8" stroke-linejoin="round" stroke-linecap="round" />
<path d="M37.51,384.56 L38.21,414.91 L37.51,418.88 L41.48,420.75 L45.22,417.25 L42.88,415.61 L43.35,385.73 Z" fill="#fff" stroke="#2c2d2e" stroke-width="0.8" stroke-linejoin="round" stroke-linecap="round" />
<path d="M36.34,349.54 L42.18,347.20 L45.68,360.04 L58.52,363.55 L57.36,366.58 L44.52,365.18 L43.35,365.88 L31.21,365.18 Z" fill="#fff" stroke="#2c2d2e" stroke-width="0.8" stroke-linejoin="round" stroke-linecap="round" />
<path d="M31.21,364.25 L43.35,364.71 L45.68,385.26 L37.51,387.60 L29.34,385.73 Z" fill="#0090d4" stroke="#2c2d2e" stroke-width="0.8" stroke-linejoin="round" stroke-linecap="round" />
<ellipse cx="41.0" cy="341.8" rx="2.6" ry="3.4" fill="#fff" stroke="#2c2d2e" stroke-width="0.6"/>
<path d="M34.48,340.20 C35.18,335.53 42.18,334.36 43.82,337.86 L42.88,340.20 L39.61,340.20 C38.68,344.87 37.51,349.54 36.34,354.21 C35.18,358.88 30.51,361.21 27.00,359.58 C25.14,357.71 27.00,351.87 30.51,347.20 C32.84,344.87 34.01,342.53 34.48,340.20 Z" fill="#222426" stroke="none" stroke-width="1" stroke-linejoin="round" stroke-linecap="round" />
<polygon points="128.75,476.75 175.70,449.75 179.30,447.80 179.30,450.80 132.50,477.80" fill="#e3d2e9" stroke="none" stroke-width="1" stroke-linejoin="round" />
<circle cx="150.8" cy="469.4" r="5.6" fill="#e3d2e9"/>
<polygon points="125.45,432.50 172.70,406.40 176.00,409.40 128.75,433.70 128.75,476.75 125.45,475.25" fill="#c39bd3" stroke="#2c2d2e" stroke-width="0.9" stroke-linejoin="round" />
<polygon points="128.75,432.65 175.70,408.50 175.70,449.75 128.75,476.75" fill="#fff" stroke="#2c2d2e" stroke-width="0.9" stroke-linejoin="round" />
<path d="M155.00,428.30 C160.25,427.25 161.75,434.00 161.00,440.00 C161.00,444.50 162.50,446.75 162.80,450.20 L165.80,448.70 L167.75,453.80 L140.00,470.00 L139.25,465.50 C140.00,461.75 143.75,459.50 146.00,458.75 C144.80,455.00 144.80,446.00 146.75,438.50 C148.25,431.75 151.25,428.75 155.00,428.30 Z" fill="#c39bd3" stroke="#2c2d2e" stroke-width="0.8" stroke-linejoin="round" stroke-linecap="round" />
<path d="M147.20,440.00 C147.50,434.30 152.75,432.20 157.25,434.30 C160.25,437.75 159.20,446.00 155.00,449.30 C150.80,450.80 146.90,446.75 147.20,440.00 Z" fill="#fff" stroke="#2c2d2e" stroke-width="0.7" stroke-linejoin="round" stroke-linecap="round" />
<path d="M150.20,450.50 C152.00,451.25 155.00,450.65 156.80,449.00 L159.50,452.00 C157.70,455.75 153.80,458.75 149.90,458.00 C149.30,455.30 149.30,452.75 150.20,450.50 Z" fill="#fff" stroke="#2c2d2e" stroke-width="0.7" stroke-linejoin="round" stroke-linecap="round" />
<ellipse cx="174.5" cy="413.0" rx="5.6" ry="8.6" transform="rotate(12 174.5 413.0)" fill="#e0cde6" stroke="#2c2d2e" stroke-width="0.8"/>
<circle cx="149.7" cy="468.5" r="3.3" fill="#fff" stroke="#2c2d2e" stroke-width="0.8"/>
<polygon points="178.75,448.75 247.00,488.75 247.00,578.75 178.75,538.75" fill="#f6f6f6" stroke="#b0b0b0" stroke-width="2.6" stroke-linejoin="round" />
<polygon points="247.00,488.75 324.25,443.00 324.25,533.00 247.00,578.75" fill="#dedede" stroke="#b0b0b0" stroke-width="2.6" stroke-linejoin="round" />
<polygon points="178.75,448.75 256.00,403.00 324.25,443.00 247.00,488.75" fill="#ededed" stroke="#b0b0b0" stroke-width="2.6" stroke-linejoin="round" />
<g fill="#2c2d2e" stroke="#2c2d2e" stroke-width="2.0" stroke-linejoin="round">
<polygon points="244.06,398.83 239.78,400.89 235.35,407.23 233.60,415.94 233.60,426.24 230.28,431.47 232.65,436.53 232.34,449.21 233.76,455.54 235.82,458.08 244.22,453.01 244.22,447.94 241.21,445.72 239.78,441.29 239.78,436.53 237.09,431.47 239.78,425.76 239.94,415.94 241.21,408.81 245.33,402.16" transform="translate(-10.30 -6.30)"/>
<polygon points="244.06,398.83 239.78,400.89 235.35,407.23 233.60,415.94 233.60,426.24 230.28,431.47 232.65,436.53 232.34,449.21 233.76,455.54 235.82,458.08 244.22,453.01 244.22,447.94 241.21,445.72 239.78,441.29 239.78,436.53 237.09,431.47 239.78,425.76 239.94,415.94 241.21,408.81 245.33,402.16" transform="translate(-9.01 -5.51)"/>
<polygon points="244.06,398.83 239.78,400.89 235.35,407.23 233.60,415.94 233.60,426.24 230.28,431.47 232.65,436.53 232.34,449.21 233.76,455.54 235.82,458.08 244.22,453.01 244.22,447.94 241.21,445.72 239.78,441.29 239.78,436.53 237.09,431.47 239.78,425.76 239.94,415.94 241.21,408.81 245.33,402.16" transform="translate(-7.73 -4.72)"/>
<polygon points="244.06,398.83 239.78,400.89 235.35,407.23 233.60,415.94 233.60,426.24 230.28,431.47 232.65,436.53 232.34,449.21 233.76,455.54 235.82,458.08 244.22,453.01 244.22,447.94 241.21,445.72 239.78,441.29 239.78,436.53 237.09,431.47 239.78,425.76 239.94,415.94 241.21,408.81 245.33,402.16" transform="translate(-6.44 -3.94)"/>
<polygon points="244.06,398.83 239.78,400.89 235.35,407.23 233.60,415.94 233.60,426.24 230.28,431.47 232.65,436.53 232.34,449.21 233.76,455.54 235.82,458.08 244.22,453.01 244.22,447.94 241.21,445.72 239.78,441.29 239.78,436.53 237.09,431.47 239.78,425.76 239.94,415.94 241.21,408.81 245.33,402.16" transform="translate(-5.15 -3.15)"/>
<polygon points="244.06,398.83 239.78,400.89 235.35,407.23 233.60,415.94 233.60,426.24 230.28,431.47 232.65,436.53 232.34,449.21 233.76,455.54 235.82,458.08 244.22,453.01 244.22,447.94 241.21,445.72 239.78,441.29 239.78,436.53 237.09,431.47 239.78,425.76 239.94,415.94 241.21,408.81 245.33,402.16" transform="translate(-3.86 -2.36)"/>
<polygon points="244.06,398.83 239.78,400.89 235.35,407.23 233.60,415.94 233.60,426.24 230.28,431.47 232.65,436.53 232.34,449.21 233.76,455.54 235.82,458.08 244.22,453.01 244.22,447.94 241.21,445.72 239.78,441.29 239.78,436.53 237.09,431.47 239.78,425.76 239.94,415.94 241.21,408.81 245.33,402.16" transform="translate(-2.58 -1.57)"/>
<polygon points="244.06,398.83 239.78,400.89 235.35,407.23 233.60,415.94 233.60,426.24 230.28,431.47 232.65,436.53 232.34,449.21 233.76,455.54 235.82,458.08 244.22,453.01 244.22,447.94 241.21,445.72 239.78,441.29 239.78,436.53 237.09,431.47 239.78,425.76 239.94,415.94 241.21,408.81 245.33,402.16" transform="translate(-1.29 -0.79)"/>
<polygon points="244.06,398.83 239.78,400.89 235.35,407.23 233.60,415.94 233.60,426.24 230.28,431.47 232.65,436.53 232.34,449.21 233.76,455.54 235.82,458.08 244.22,453.01 244.22,447.94 241.21,445.72 239.78,441.29 239.78,436.53 237.09,431.47 239.78,425.76 239.94,415.94 241.21,408.81 245.33,402.16" transform="translate(-0.00 -0.00)"/>
</g><g fill="#c39bd3" stroke="#c39bd3" stroke-width="0.3">
<polygon points="244.06,398.83 239.78,400.89 235.35,407.23 233.60,415.94 233.60,426.24 230.28,431.47 232.65,436.53 232.34,449.21 233.76,455.54 235.82,458.08 244.22,453.01 244.22,447.94 241.21,445.72 239.78,441.29 239.78,436.53 237.09,431.47 239.78,425.76 239.94,415.94 241.21,408.81 245.33,402.16" transform="translate(-10.30 -6.30)"/>
<polygon points="244.06,398.83 239.78,400.89 235.35,407.23 233.60,415.94 233.60,426.24 230.28,431.47 232.65,436.53 232.34,449.21 233.76,455.54 235.82,458.08 244.22,453.01 244.22,447.94 241.21,445.72 239.78,441.29 239.78,436.53 237.09,431.47 239.78,425.76 239.94,415.94 241.21,408.81 245.33,402.16" transform="translate(-9.01 -5.51)"/>
<polygon points="244.06,398.83 239.78,400.89 235.35,407.23 233.60,415.94 233.60,426.24 230.28,431.47 232.65,436.53 232.34,449.21 233.76,455.54 235.82,458.08 244.22,453.01 244.22,447.94 241.21,445.72 239.78,441.29 239.78,436.53 237.09,431.47 239.78,425.76 239.94,415.94 241.21,408.81 245.33,402.16" transform="translate(-7.73 -4.72)"/>
<polygon points="244.06,398.83 239.78,400.89 235.35,407.23 233.60,415.94 233.60,426.24 230.28,431.47 232.65,436.53 232.34,449.21 233.76,455.54 235.82,458.08 244.22,453.01 244.22,447.94 241.21,445.72 239.78,441.29 239.78,436.53 237.09,431.47 239.78,425.76 239.94,415.94 241.21,408.81 245.33,402.16" transform="translate(-6.44 -3.94)"/>
<polygon points="244.06,398.83 239.78,400.89 235.35,407.23 233.60,415.94 233.60,426.24 230.28,431.47 232.65,436.53 232.34,449.21 233.76,455.54 235.82,458.08 244.22,453.01 244.22,447.94 241.21,445.72 239.78,441.29 239.78,436.53 237.09,431.47 239.78,425.76 239.94,415.94 241.21,408.81 245.33,402.16" transform="translate(-5.15 -3.15)"/>
<polygon points="244.06,398.83 239.78,400.89 235.35,407.23 233.60,415.94 233.60,426.24 230.28,431.47 232.65,436.53 232.34,449.21 233.76,455.54 235.82,458.08 244.22,453.01 244.22,447.94 241.21,445.72 239.78,441.29 239.78,436.53 237.09,431.47 239.78,425.76 239.94,415.94 241.21,408.81 245.33,402.16" transform="translate(-3.86 -2.36)"/>
<polygon points="244.06,398.83 239.78,400.89 235.35,407.23 233.60,415.94 233.60,426.24 230.28,431.47 232.65,436.53 232.34,449.21 233.76,455.54 235.82,458.08 244.22,453.01 244.22,447.94 241.21,445.72 239.78,441.29 239.78,436.53 237.09,431.47 239.78,425.76 239.94,415.94 241.21,408.81 245.33,402.16" transform="translate(-2.58 -1.57)"/>
<polygon points="244.06,398.83 239.78,400.89 235.35,407.23 233.60,415.94 233.60,426.24 230.28,431.47 232.65,436.53 232.34,449.21 233.76,455.54 235.82,458.08 244.22,453.01 244.22,447.94 241.21,445.72 239.78,441.29 239.78,436.53 237.09,431.47 239.78,425.76 239.94,415.94 241.21,408.81 245.33,402.16" transform="translate(-1.29 -0.79)"/>
</g>
<polygon points="244.06,398.83 239.78,400.89 235.35,407.23 233.60,415.94 233.60,426.24 230.28,431.47 232.65,436.53 232.34,449.21 233.76,455.54 235.82,458.08 244.22,453.01 244.22,447.94 241.21,445.72 239.78,441.29 239.78,436.53 237.09,431.47 239.78,425.76 239.94,415.94 241.21,408.81 245.33,402.16" fill="#fff" stroke="#2c2d2e" stroke-width="1.0" stroke-linejoin="round" />
<polygon points="216.34,427.19 220.77,424.81 233.60,429.25 229.17,433.21" fill="#c39bd3" stroke="#2c2d2e" stroke-width="0.9" stroke-linejoin="round" />
<polygon points="216.34,427.19 229.17,433.21 229.17,439.23 216.34,433.37" fill="#c39bd3" stroke="#2c2d2e" stroke-width="0.9" stroke-linejoin="round" />
<polygon points="244.06,398.83 239.78,400.89 235.35,407.23 233.60,415.94 233.60,426.24 230.28,431.47 232.65,436.53 232.34,449.21 233.76,455.54 235.82,458.08 244.22,453.01 244.22,447.94 241.21,445.72 239.78,441.29 239.78,436.53 237.09,431.47 239.78,425.76 239.94,415.94 241.21,408.81 245.33,402.16" fill="#fff" stroke="#2c2d2e" stroke-width="1.0" stroke-linejoin="round" />
<g fill="#2c2d2e" stroke="#2c2d2e" stroke-width="2.0" stroke-linejoin="round">
<polygon points="262.28,389.33 271.15,385.68 273.52,388.38 274.16,401.68 277.49,404.22 277.49,409.60 274.32,412.77 273.52,433.37 271.15,438.28 262.28,444.61 261.49,439.86 265.45,435.90 266.40,430.20 266.40,415.94 269.09,411.98 265.60,408.02 265.60,395.35 262.28,393.76" transform="translate(-11.90 -6.30)"/>
<polygon points="262.28,389.33 271.15,385.68 273.52,388.38 274.16,401.68 277.49,404.22 277.49,409.60 274.32,412.77 273.52,433.37 271.15,438.28 262.28,444.61 261.49,439.86 265.45,435.90 266.40,430.20 266.40,415.94 269.09,411.98 265.60,408.02 265.60,395.35 262.28,393.76" transform="translate(-10.41 -5.51)"/>
<polygon points="262.28,389.33 271.15,385.68 273.52,388.38 274.16,401.68 277.49,404.22 277.49,409.60 274.32,412.77 273.52,433.37 271.15,438.28 262.28,444.61 261.49,439.86 265.45,435.90 266.40,430.20 266.40,415.94 269.09,411.98 265.60,408.02 265.60,395.35 262.28,393.76" transform="translate(-8.93 -4.72)"/>
<polygon points="262.28,389.33 271.15,385.68 273.52,388.38 274.16,401.68 277.49,404.22 277.49,409.60 274.32,412.77 273.52,433.37 271.15,438.28 262.28,444.61 261.49,439.86 265.45,435.90 266.40,430.20 266.40,415.94 269.09,411.98 265.60,408.02 265.60,395.35 262.28,393.76" transform="translate(-7.44 -3.94)"/>
<polygon points="262.28,389.33 271.15,385.68 273.52,388.38 274.16,401.68 277.49,404.22 277.49,409.60 274.32,412.77 273.52,433.37 271.15,438.28 262.28,444.61 261.49,439.86 265.45,435.90 266.40,430.20 266.40,415.94 269.09,411.98 265.60,408.02 265.60,395.35 262.28,393.76" transform="translate(-5.95 -3.15)"/>
<polygon points="262.28,389.33 271.15,385.68 273.52,388.38 274.16,401.68 277.49,404.22 277.49,409.60 274.32,412.77 273.52,433.37 271.15,438.28 262.28,444.61 261.49,439.86 265.45,435.90 266.40,430.20 266.40,415.94 269.09,411.98 265.60,408.02 265.60,395.35 262.28,393.76" transform="translate(-4.46 -2.36)"/>
<polygon points="262.28,389.33 271.15,385.68 273.52,388.38 274.16,401.68 277.49,404.22 277.49,409.60 274.32,412.77 273.52,433.37 271.15,438.28 262.28,444.61 261.49,439.86 265.45,435.90 266.40,430.20 266.40,415.94 269.09,411.98 265.60,408.02 265.60,395.35 262.28,393.76" transform="translate(-2.98 -1.57)"/>
<polygon points="262.28,389.33 271.15,385.68 273.52,388.38 274.16,401.68 277.49,404.22 277.49,409.60 274.32,412.77 273.52,433.37 271.15,438.28 262.28,444.61 261.49,439.86 265.45,435.90 266.40,430.20 266.40,415.94 269.09,411.98 265.60,408.02 265.60,395.35 262.28,393.76" transform="translate(-1.49 -0.79)"/>
<polygon points="262.28,389.33 271.15,385.68 273.52,388.38 274.16,401.68 277.49,404.22 277.49,409.60 274.32,412.77 273.52,433.37 271.15,438.28 262.28,444.61 261.49,439.86 265.45,435.90 266.40,430.20 266.40,415.94 269.09,411.98 265.60,408.02 265.60,395.35 262.28,393.76" transform="translate(-0.00 -0.00)"/>
</g><g fill="#3a3c3e" stroke="#3a3c3e" stroke-width="0.3">
<polygon points="262.28,389.33 271.15,385.68 273.52,388.38 274.16,401.68 277.49,404.22 277.49,409.60 274.32,412.77 273.52,433.37 271.15,438.28 262.28,444.61 261.49,439.86 265.45,435.90 266.40,430.20 266.40,415.94 269.09,411.98 265.60,408.02 265.60,395.35 262.28,393.76" transform="translate(-11.90 -6.30)"/>
<polygon points="262.28,389.33 271.15,385.68 273.52,388.38 274.16,401.68 277.49,404.22 277.49,409.60 274.32,412.77 273.52,433.37 271.15,438.28 262.28,444.61 261.49,439.86 265.45,435.90 266.40,430.20 266.40,415.94 269.09,411.98 265.60,408.02 265.60,395.35 262.28,393.76" transform="translate(-10.41 -5.51)"/>
<polygon points="262.28,389.33 271.15,385.68 273.52,388.38 274.16,401.68 277.49,404.22 277.49,409.60 274.32,412.77 273.52,433.37 271.15,438.28 262.28,444.61 261.49,439.86 265.45,435.90 266.40,430.20 266.40,415.94 269.09,411.98 265.60,408.02 265.60,395.35 262.28,393.76" transform="translate(-8.93 -4.72)"/>
<polygon points="262.28,389.33 271.15,385.68 273.52,388.38 274.16,401.68 277.49,404.22 277.49,409.60 274.32,412.77 273.52,433.37 271.15,438.28 262.28,444.61 261.49,439.86 265.45,435.90 266.40,430.20 266.40,415.94 269.09,411.98 265.60,408.02 265.60,395.35 262.28,393.76" transform="translate(-7.44 -3.94)"/>
<polygon points="262.28,389.33 271.15,385.68 273.52,388.38 274.16,401.68 277.49,404.22 277.49,409.60 274.32,412.77 273.52,433.37 271.15,438.28 262.28,444.61 261.49,439.86 265.45,435.90 266.40,430.20 266.40,415.94 269.09,411.98 265.60,408.02 265.60,395.35 262.28,393.76" transform="translate(-5.95 -3.15)"/>
<polygon points="262.28,389.33 271.15,385.68 273.52,388.38 274.16,401.68 277.49,404.22 277.49,409.60 274.32,412.77 273.52,433.37 271.15,438.28 262.28,444.61 261.49,439.86 265.45,435.90 266.40,430.20 266.40,415.94 269.09,411.98 265.60,408.02 265.60,395.35 262.28,393.76" transform="translate(-4.46 -2.36)"/>
<polygon points="262.28,389.33 271.15,385.68 273.52,388.38 274.16,401.68 277.49,404.22 277.49,409.60 274.32,412.77 273.52,433.37 271.15,438.28 262.28,444.61 261.49,439.86 265.45,435.90 266.40,430.20 266.40,415.94 269.09,411.98 265.60,408.02 265.60,395.35 262.28,393.76" transform="translate(-2.98 -1.57)"/>
<polygon points="262.28,389.33 271.15,385.68 273.52,388.38 274.16,401.68 277.49,404.22 277.49,409.60 274.32,412.77 273.52,433.37 271.15,438.28 262.28,444.61 261.49,439.86 265.45,435.90 266.40,430.20 266.40,415.94 269.09,411.98 265.60,408.02 265.60,395.35 262.28,393.76" transform="translate(-1.49 -0.79)"/>
</g>
<polygon points="262.28,389.33 271.15,385.68 273.52,388.38 274.16,401.68 277.49,404.22 277.49,409.60 274.32,412.77 273.52,433.37 271.15,438.28 262.28,444.61 261.49,439.86 265.45,435.90 266.40,430.20 266.40,415.94 269.09,411.98 265.60,408.02 265.60,395.35 262.28,393.76" fill="#fff" stroke="#2c2d2e" stroke-width="1.0" stroke-linejoin="round" />
<polygon points="250.40,382.99 257.52,378.87 271.15,385.68 262.28,389.33" fill="#c39bd3" stroke="#2c2d2e" stroke-width="0.9" stroke-linejoin="round" />
<polygon points="250.40,382.99 262.28,389.33 262.28,393.76 250.40,387.74" fill="#e9edf0" stroke="#2c2d2e" stroke-width="0.9" stroke-linejoin="round" />
<polygon points="249.60,433.52 261.49,439.86 262.28,444.61 249.60,438.44" fill="#fff" stroke="#2c2d2e" stroke-width="0.9" stroke-linejoin="round" />
<polygon points="262.28,389.33 271.15,385.68 273.52,388.38 274.16,401.68 277.49,404.22 277.49,409.60 274.32,412.77 273.52,433.37 271.15,438.28 262.28,444.61 261.49,439.86 265.45,435.90 266.40,430.20 266.40,415.94 269.09,411.98 265.60,408.02 265.60,395.35 262.28,393.76" fill="#fff" stroke="#2c2d2e" stroke-width="1.0" stroke-linejoin="round" />
<ellipse cx="352.5" cy="390.5" rx="25" ry="17.5" fill="#dcc5e3"/>
<path d="M323.4,381.4 L323.4,389.8 A23.1,13.4 0 0 0 369.6,389.8 L369.6,381.4 Z" fill="#c7a1d6" stroke="#2c2d2e" stroke-width="1.1" stroke-linejoin="round" stroke-linecap="round" />
<ellipse cx="346.5" cy="381.4" rx="23.1" ry="13.4" fill="#c39bd3" stroke="#2c2d2e" stroke-width="1.1"/>
<polyline points="357.20,377.00 339.40,376.10 340.70,386.50" fill="none" stroke="#2c2d2e" stroke-width="0.9" stroke-linejoin="round" stroke-linecap="round" />
<ellipse cx="339.4" cy="376.1" rx="3" ry="1.9" fill="#fff" stroke="#2c2d2e" stroke-width="0.9"/>
<ellipse cx="357.2" cy="377.0" rx="3" ry="1.9" fill="#fff" stroke="#2c2d2e" stroke-width="0.9"/>
<ellipse cx="340.7" cy="386.5" rx="3" ry="1.9" fill="#fff" stroke="#2c2d2e" stroke-width="0.9"/>
<path d="M362.5,401.5 Q370,404 377.5,399" fill="none" stroke="#2c2d2e" stroke-width="0.8" stroke-linejoin="round" stroke-linecap="round" />
<path d="M379.52,404.85 L389.23,403.02 C390.51,415.48 391.25,431.98 391.06,441.14 L387.58,442.61 L385.75,440.23 L384.46,428.31 L382.82,437.84 L378.23,438.39 C377.32,428.31 378.23,415.48 379.52,404.85 Z" fill="#222426" stroke="#222426" stroke-width="0.6" stroke-linejoin="round" stroke-linecap="round" />
<path d="M391.61,398.99 L396.01,403.02 L387.95,408.52 L386.48,407.24 L393.45,403.02 L390.15,399.90 Z" fill="#fff" stroke="#2c2d2e" stroke-width="0.8" stroke-linejoin="round" stroke-linecap="round" />
<path d="M378.60,394.41 L376.95,398.99 L379.15,405.40 L380.25,404.85 L378.42,398.99 L379.52,395.32 Z" fill="#fff" stroke="#2c2d2e" stroke-width="0.8" stroke-linejoin="round" stroke-linecap="round" />
<path d="M378.23,394.22 L385.75,392.57 L392.35,398.26 L389.41,403.20 L379.52,405.59 L379.15,398.99 Z" fill="#0090d4" stroke="#2c2d2e" stroke-width="0.8" stroke-linejoin="round" stroke-linecap="round" />
<ellipse cx="383.0" cy="389.8" rx="1.7" ry="2.4" fill="#fff" stroke="#2c2d2e" stroke-width="0.6"/>
<path d="M381.72,387.62 C381.72,383.96 386.85,383.23 387.58,387.62 C388.50,391.66 388.86,394.41 388.13,397.71 L384.83,396.42 L384.46,392.57 C383.18,392.39 382.82,389.82 383.55,387.99 Z" fill="#222426" stroke="none" stroke-width="1" stroke-linejoin="round" stroke-linecap="round" />
<path d="M355.69,426.11 L364.49,427.40 L366.14,446.64 L363.20,447.74 L361.00,435.65 L359.54,442.24 L355.69,441.14 Z" fill="#9acfea" stroke="#2c2d2e" stroke-width="0.8" stroke-linejoin="round" stroke-linecap="round" />
<path d="M353.49,411.82 L359.90,409.62 L363.39,410.35 L367.42,418.78 L364.67,427.58 L355.69,426.66 L352.76,418.42 Z" fill="#222426" stroke="none" stroke-width="1" stroke-linejoin="round" stroke-linecap="round" />
<path d="M364.49,423.18 L369.99,420.98 L374.93,422.08 L374.75,423.18 L370.35,423.55 L365.59,426.85 Z" fill="#fff" stroke="#2c2d2e" stroke-width="0.8" stroke-linejoin="round" stroke-linecap="round" />
<path d="M352.94,418.23 L354.22,425.56 L355.51,425.38 L354.59,418.23 Z" fill="#fff" stroke="#2c2d2e" stroke-width="0.7" stroke-linejoin="round" stroke-linecap="round" />
<ellipse cx="360.8" cy="407.2" rx="2.3" ry="2.8" fill="#fff" stroke="#2c2d2e" stroke-width="0.6"/>
<ellipse cx="359.5" cy="405.4" rx="3.2" ry="3" fill="#222426"/>
<ellipse cx="368.2" cy="456.9" rx="1.8" ry="1" fill="#222426"/>
<ellipse cx="330.5" cy="532.0" rx="17.5" ry="13.5" fill="#fff" stroke="#8a8a8a" stroke-width="1"/>
<rect x="322.5" y="530.0" width="7.4" height="42.5" rx="3" fill="#868686"/>
<path d="M280.5,490.0 C276.5,500.0 278.5,515.0 289.0,520.0 C290.5,528.8 297.2,533.0 304.0,534.5 C311.0,539.0 321.0,538.5 326.5,537.0 C333.5,539.5 346.0,537.5 351.0,532.5 C358.5,530.5 362.5,523.8 362.0,516.2 C371.0,510.0 371.0,495.0 361.0,490.0 C336.0,485.0 306.0,485.0 280.5,490.0 Z" fill="#b9b9b9" stroke="#808080" stroke-width="1.4" stroke-linejoin="round" stroke-linecap="round" />
<path d="M322.2,431.2 C321.0,420.0 328.5,414.5 333.5,414.5 C343.5,414.5 349.0,430.0 349.8,441.8 C359.8,437.5 368.5,450.0 368.0,463.0 C377.2,468.8 377.2,483.8 369.8,488.8 C374.8,498.8 371.0,508.8 362.8,512.5 C357.2,517.0 346.0,516.2 342.2,509.5 C337.2,517.5 327.2,516.2 324.8,507.5 C319.8,514.5 307.2,512.5 304.8,500.0 C299.8,506.2 291.0,507.0 286.0,507.0 C279.0,502.5 278.0,493.8 282.2,488.8 C273.5,480.0 275.5,462.5 285.5,456.2 C284.0,446.2 291.0,438.8 298.0,440.0 C301.0,430.0 313.5,426.2 322.2,431.2 Z" fill="#ededed" stroke="#808080" stroke-width="1.4" stroke-linejoin="round" stroke-linecap="round" />
<ellipse cx="773.2" cy="412.0" rx="17.5" ry="13.5" fill="#fff" stroke="#8a8a8a" stroke-width="1"/>
<rect x="765.2" y="410.0" width="7.4" height="42.5" rx="3" fill="#868686"/>
<path d="M723.2,370.0 C719.2,380.0 721.2,395.0 731.8,400.0 C733.2,408.8 740.0,413.0 746.8,414.5 C753.8,419.0 763.8,418.5 769.2,417.0 C776.2,419.5 788.8,417.5 793.8,412.5 C801.2,410.5 805.2,403.8 804.8,396.2 C813.8,390.0 813.8,375.0 803.8,370.0 C778.8,365.0 748.8,365.0 723.2,370.0 Z" fill="#b9b9b9" stroke="#808080" stroke-width="1.4" stroke-linejoin="round" stroke-linecap="round" />
<path d="M765.0,311.2 C763.8,300.0 771.2,294.5 776.2,294.5 C786.2,294.5 791.8,310.0 792.5,321.8 C802.5,317.5 811.2,330.0 810.8,343.0 C820.0,348.8 820.0,363.8 812.5,368.8 C817.5,378.8 813.8,388.8 805.5,392.5 C800.0,397.0 788.8,396.2 785.0,389.5 C780.0,397.5 770.0,396.2 767.5,387.5 C762.5,394.5 750.0,392.5 747.5,380.0 C742.5,386.2 733.8,387.0 728.8,387.0 C721.8,382.5 720.8,373.8 725.0,368.8 C716.2,360.0 718.2,342.5 728.2,336.2 C726.8,326.2 733.8,318.8 740.8,320.0 C743.8,310.0 756.2,306.2 765.0,311.2 Z" fill="#ededed" stroke="#808080" stroke-width="1.4" stroke-linejoin="round" stroke-linecap="round" />
<ellipse cx="719.5" cy="542.0" rx="17.5" ry="13.5" fill="#fff" stroke="#8a8a8a" stroke-width="1"/>
<rect x="711.5" y="540.0" width="7.4" height="42.5" rx="3" fill="#868686"/>
<path d="M669.5,500.0 C665.5,510.0 667.5,525.0 678.0,530.0 C679.5,538.8 686.2,543.0 693.0,544.5 C700.0,549.0 710.0,548.5 715.5,547.0 C722.5,549.5 735.0,547.5 740.0,542.5 C747.5,540.5 751.5,533.8 751.0,526.2 C760.0,520.0 760.0,505.0 750.0,500.0 C725.0,495.0 695.0,495.0 669.5,500.0 Z" fill="#b9b9b9" stroke="#808080" stroke-width="1.4" stroke-linejoin="round" stroke-linecap="round" />
<path d="M711.2,441.2 C710.0,430.0 717.5,424.5 722.5,424.5 C732.5,424.5 738.0,440.0 738.8,451.8 C748.8,447.5 757.5,460.0 757.0,473.0 C766.2,478.8 766.2,493.8 758.8,498.8 C763.8,508.8 760.0,518.8 751.8,522.5 C746.2,527.0 735.0,526.2 731.2,519.5 C726.2,527.5 716.2,526.2 713.8,517.5 C708.8,524.5 696.2,522.5 693.8,510.0 C688.8,516.2 680.0,517.0 675.0,517.0 C668.0,512.5 667.0,503.8 671.2,498.8 C662.5,490.0 664.5,472.5 674.5,466.2 C673.0,456.2 680.0,448.8 687.0,450.0 C690.0,440.0 702.5,436.2 711.2,441.2 Z" fill="#ededed" stroke="#808080" stroke-width="1.4" stroke-linejoin="round" stroke-linecap="round" />
</svg>
</body></html>
